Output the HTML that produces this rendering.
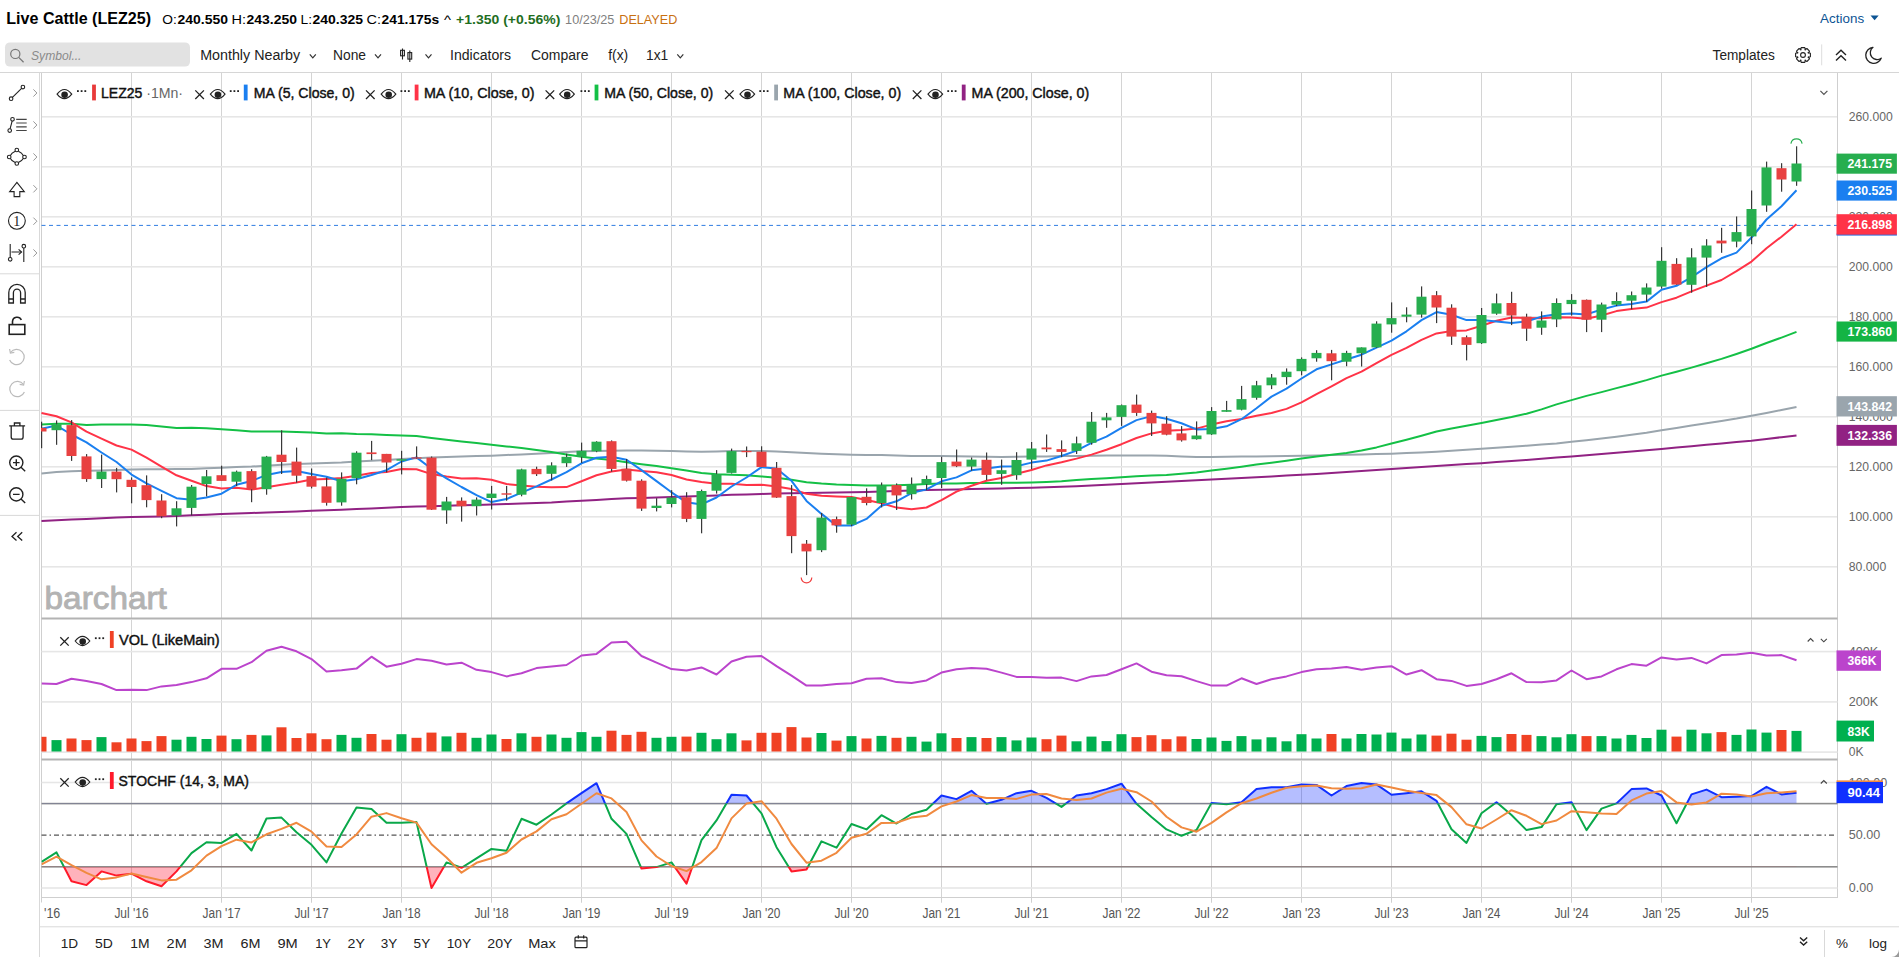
<!DOCTYPE html><html><head><meta charset="utf-8"><style>html,body{margin:0;padding:0;background:#fff;overflow:hidden;width:1899px;height:957px}svg{display:block;font-family:"Liberation Sans",sans-serif}</style></head><body><svg width="1899" height="957" viewBox="0 0 1899 957" font-family='"Liberation Sans", sans-serif'>
<defs><clipPath id="cMain"><rect x="41" y="73" width="1796.5" height="545"/></clipPath><clipPath id="cVol"><rect x="41.5" y="619.5" width="1796" height="140"/></clipPath><clipPath id="cSt"><rect x="41.5" y="761" width="1796" height="136.5"/></clipPath><clipPath id="cHi"><rect x="41.5" y="761" width="1796" height="42.6"/></clipPath><clipPath id="cMid"><rect x="41.5" y="803.6" width="1796" height="63.2"/></clipPath><clipPath id="cLo"><rect x="41.5" y="866.8" width="1796" height="31"/></clipPath></defs>
<rect width="1899" height="957" fill="#fff"/>
<text x="6.3" y="23.8" font-size="16.5" fill="#000" font-weight="bold" textLength="144.7" lengthAdjust="spacingAndGlyphs" >Live Cattle (LEZ25)</text>
<text x="162.3" y="23.6" font-size="13.5" fill="#000" textLength="14.5" lengthAdjust="spacingAndGlyphs" >O:</text>
<text x="177.5" y="23.6" font-size="13.5" fill="#000" font-weight="bold" textLength="50.5" lengthAdjust="spacingAndGlyphs" >240.550</text>
<text x="231.5" y="23.6" font-size="13.5" fill="#000" textLength="14.5" lengthAdjust="spacingAndGlyphs" >H:</text>
<text x="246.5" y="23.6" font-size="13.5" fill="#000" font-weight="bold" textLength="50.5" lengthAdjust="spacingAndGlyphs" >243.250</text>
<text x="300.5" y="23.6" font-size="13.5" fill="#000" textLength="11.5" lengthAdjust="spacingAndGlyphs" >L:</text>
<text x="312.5" y="23.6" font-size="13.5" fill="#000" font-weight="bold" textLength="50.5" lengthAdjust="spacingAndGlyphs" >240.325</text>
<text x="366.5" y="23.6" font-size="13.5" fill="#000" textLength="14.5" lengthAdjust="spacingAndGlyphs" >C:</text>
<text x="381.5" y="23.6" font-size="13.5" fill="#000" font-weight="bold" textLength="57.7" lengthAdjust="spacingAndGlyphs" >241.175s</text>
<text x="443.9" y="23.6" font-size="13.5" fill="#000" textLength="7" lengthAdjust="spacingAndGlyphs" >^</text>
<text x="456.1" y="23.6" font-size="13.5" fill="#1f6e1f" font-weight="bold" textLength="104.2" lengthAdjust="spacingAndGlyphs" >+1.350 (+0.56%)</text>
<text x="565.1" y="23.6" font-size="13.5" fill="#808080" textLength="49.3" lengthAdjust="spacingAndGlyphs" >10/23/25</text>
<text x="619.3" y="23.6" font-size="13.5" fill="#c8700f" textLength="58" lengthAdjust="spacingAndGlyphs" >DELAYED</text>
<text x="1820.1" y="23.3" font-size="13.5" fill="#0d5494" textLength="44" lengthAdjust="spacingAndGlyphs" >Actions</text>
<path d="M1870.5 15.6 L1878.7 15.6 L1874.6 20.2 Z" fill="#0d5494"/>
<rect x="5" y="42.4" width="185" height="24.2" rx="5" fill="#e2e2e2"/>
<circle cx="15.3" cy="53.9" r="4.6" fill="none" stroke="#777" stroke-width="1.2"/>
<path d="M18.7 57.4 L23.6 62.2" stroke="#777" stroke-width="1.3"/>
<text x="31" y="59.5" font-size="13.5" fill="#8a8a8a" font-style="italic" textLength="50.5" lengthAdjust="spacingAndGlyphs" >Symbol...</text>
<text x="200.2" y="60.2" font-size="14" fill="#222" textLength="100" lengthAdjust="spacingAndGlyphs" >Monthly Nearby</text>
<text x="333" y="60.2" font-size="14" fill="#222" textLength="33" lengthAdjust="spacingAndGlyphs" >None</text>
<text x="450" y="60.2" font-size="14" fill="#222" textLength="61" lengthAdjust="spacingAndGlyphs" >Indicators</text>
<text x="531" y="60.2" font-size="14" fill="#222" textLength="57.5" lengthAdjust="spacingAndGlyphs" >Compare</text>
<text x="608.2" y="60.2" font-size="14" fill="#222" textLength="20" lengthAdjust="spacingAndGlyphs" >f(x)</text>
<text x="646" y="60.2" font-size="14" fill="#222" textLength="22.2" lengthAdjust="spacingAndGlyphs" >1x1</text>
<text x="1712.6" y="60.2" font-size="14" fill="#222" textLength="62.2" lengthAdjust="spacingAndGlyphs" >Templates</text>
<path d="M309.8 54.3 L312.8 57.8 L315.8 54.3" fill="none" stroke="#333" stroke-width="1.2"/>
<path d="M375 54.3 L378 57.8 L381 54.3" fill="none" stroke="#333" stroke-width="1.2"/>
<path d="M425.5 54.3 L428.5 57.8 L431.5 54.3" fill="none" stroke="#333" stroke-width="1.2"/>
<path d="M677.3 54.3 L680.3 57.8 L683.3 54.3" fill="none" stroke="#333" stroke-width="1.2"/>
<g stroke="#222" stroke-width="1.1" fill="none"><path d="M402.5 48.5 V59.5 M409.8 50.5 V62"/><rect x="400.6" y="50.3" width="3.8" height="5.5"/><rect x="407.9" y="52.6" width="3.8" height="6.5"/></g>
<polygon points="1810.4,53.2 1810.4,56.8 1808.1,57.4 1808.3,56.9 1809.5,58.9 1806.9,61.5 1804.9,60.3 1805.4,60.1 1804.8,62.4 1801.2,62.4 1800.6,60.1 1801.1,60.3 1799.1,61.5 1796.5,58.9 1797.7,56.9 1797.9,57.4 1795.6,56.8 1795.6,53.2 1797.9,52.6 1797.7,53.1 1796.5,51.1 1799.1,48.5 1801.1,49.7 1800.6,49.9 1801.2,47.6 1804.8,47.6 1805.4,49.9 1804.9,49.7 1806.9,48.5 1809.5,51.1 1808.3,53.1 1808.1,52.6" fill="none" stroke="#222" stroke-width="1.1" stroke-linejoin="round"/>
<circle cx="1803" cy="55" r="2.4" fill="none" stroke="#222" stroke-width="1.1"/>
<line x1="1821.7" y1="44.4" x2="1821.7" y2="65.3" stroke="#ddd" stroke-width="1"/>
<path d="M1836 55 L1841 50.3 L1846 55 M1836 60.5 L1841 55.8 L1846 60.5" fill="none" stroke="#222" stroke-width="1.4"/>
<path d="M1873 47.3 A8 8 0 1 0 1881.2 58.2 A6.6 6.6 0 0 1 1873 47.3 Z" fill="none" stroke="#222" stroke-width="1.3" stroke-linejoin="round"/>
<rect x="0" y="72" width="1899" height="1" fill="#d6d6d6"/>
<rect x="39" y="73" width="1" height="884" fill="#d9d9d9"/>
<rect x="0" y="273.3" width="39" height="1" fill="#d9d9d9"/>
<rect x="0" y="409.9" width="39" height="1" fill="#d9d9d9"/>
<rect x="0" y="514.9" width="39" height="1" fill="#d9d9d9"/>
<g fill="none" stroke="#222" stroke-width="1.1"><circle cx="11.1" cy="98.7" r="1.8"/><circle cx="22.9" cy="87.1" r="1.8"/><path d="M12.4 97.4 L21.6 88.4"/></g>
<g fill="none" stroke="#222" stroke-width="1.1"><circle cx="12.5" cy="119.3" r="1.8"/><circle cx="9.7" cy="130.6" r="1.8"/><path d="M12.1 121.1 L10.1 128.8"/></g>
<g stroke="#444" stroke-width="1.2"><path d="M16.2 119.3 H26.7 M16.2 123 H26.7 M16.2 126.8 H26.7 M16.2 130.5 H26.7"/></g>
<g fill="none" stroke="#222" stroke-width="1.1"><circle cx="16.8" cy="150" r="1.8"/><circle cx="9.2" cy="157" r="1.8"/><circle cx="24.5" cy="157" r="1.8"/><circle cx="16.8" cy="163.5" r="1.8"/><path d="M15.3 151.3 Q11.5 153 10.4 155.4 M18.4 151.3 Q22 153 23.3 155.4 M10.4 158.6 Q11.5 161 15.2 162.5 M23.3 158.6 Q22 161 18.4 162.5"/></g>
<path d="M16.9 182.3 L24.3 191.6 L19.8 191.6 L19.8 196.6 L14.1 196.6 L14.1 191.6 L9.6 191.6 Z" fill="none" stroke="#222" stroke-width="1.1" stroke-linejoin="miter"/>
<circle cx="16.9" cy="220.8" r="8.4" fill="none" stroke="#222" stroke-width="1.1"/>
<text x="13.3" y="226" font-size="14" fill="#222" textLength="7" lengthAdjust="spacingAndGlyphs" font-family="Liberation Serif">1</text>
<g fill="none" stroke="#222" stroke-width="1.1"><path d="M10.2 244.1 V257.5 M23.8 248 V261.9 M11.5 252 H21.2"/><circle cx="10.2" cy="259.3" r="1.8"/><circle cx="23.8" cy="246.2" r="1.8"/></g>
<path d="M18.6 249.4 L21.6 252 L18.6 254.6" fill="none" stroke="#222" stroke-width="1.1"/>
<path d="M33.4 89.4 L36.9 93 L33.4 96.6" fill="none" stroke="#999" stroke-width="1"/>
<path d="M33.4 121.4 L36.9 125 L33.4 128.6" fill="none" stroke="#999" stroke-width="1"/>
<path d="M33.4 153.4 L36.9 157 L33.4 160.6" fill="none" stroke="#999" stroke-width="1"/>
<path d="M33.4 185.2 L36.9 188.8 L33.4 192.4" fill="none" stroke="#999" stroke-width="1"/>
<path d="M33.4 217.6 L36.9 221.2 L33.4 224.8" fill="none" stroke="#999" stroke-width="1"/>
<path d="M33.4 249.4 L36.9 253 L33.4 256.6" fill="none" stroke="#999" stroke-width="1"/>
<g fill="none" stroke="#222" stroke-width="1.3"><path d="M8.8 303 V292.5 A8.2 8.2 0 0 1 25.2 292.5 V303 H20.6 V292.7 A3.6 3.6 0 0 0 13.4 292.7 V303 Z"/><path d="M8.8 299 H13.4 M20.6 299 H25.2"/></g>
<g fill="none" stroke="#222" stroke-width="1.6"><rect x="9.2" y="324.6" width="15.6" height="9.7"/><path d="M12.5 324.6 V321.5 A4.6 4.6 0 0 1 21.3 320"/></g>
<g fill="none" stroke="#bbb" stroke-width="1.2"><path d="M10.5 352.5 A7.6 7.6 0 1 1 9.6 360"/><path d="M9.6 349 L10.4 353 L14.3 352.3"/><path d="M23.5 384.5 A7.6 7.6 0 1 0 24.4 392"/><path d="M24.4 381 L23.6 385 L19.7 384.3"/></g>
<g fill="none" stroke="#222" stroke-width="1.3"><path d="M9.2 425.9 H25.1 M14.4 425.9 V423 H19.9 V425.9 M11.2 425.9 V437 Q11.2 439.2 13.4 439.2 H20.9 Q23.1 439.2 23.1 437 V425.9"/></g>
<g fill="none" stroke="#222" stroke-width="1.4"><circle cx="16.3" cy="462.6" r="6.6"/><path d="M21 467.3 L25.2 471.3 M13 462.6 H19.6 M16.3 459.3 V465.9"/><circle cx="16.3" cy="494.4" r="6.6"/><path d="M21 499.1 L25.2 503.1 M13 494.4 H19.6"/></g>
<path d="M16.5 532.3 L12 536.4 L16.5 540.5 M22.2 532.3 L17.7 536.4 L22.2 540.5" fill="none" stroke="#222" stroke-width="1.3"/>
<rect x="131" y="73" width="1" height="545" fill="#d4d4d4"/>
<rect x="221" y="73" width="1" height="545" fill="#d4d4d4"/>
<rect x="311" y="73" width="1" height="545" fill="#d4d4d4"/>
<rect x="401" y="73" width="1" height="545" fill="#d4d4d4"/>
<rect x="491" y="73" width="1" height="545" fill="#d4d4d4"/>
<rect x="581" y="73" width="1" height="545" fill="#d4d4d4"/>
<rect x="671" y="73" width="1" height="545" fill="#d4d4d4"/>
<rect x="761" y="73" width="1" height="545" fill="#d4d4d4"/>
<rect x="851" y="73" width="1" height="545" fill="#d4d4d4"/>
<rect x="941" y="73" width="1" height="545" fill="#d4d4d4"/>
<rect x="1031" y="73" width="1" height="545" fill="#d4d4d4"/>
<rect x="1121" y="73" width="1" height="545" fill="#d4d4d4"/>
<rect x="1211" y="73" width="1" height="545" fill="#d4d4d4"/>
<rect x="1301" y="73" width="1" height="545" fill="#d4d4d4"/>
<rect x="1391" y="73" width="1" height="545" fill="#d4d4d4"/>
<rect x="1481" y="73" width="1" height="545" fill="#d4d4d4"/>
<rect x="1571" y="73" width="1" height="545" fill="#d4d4d4"/>
<rect x="1661" y="73" width="1" height="545" fill="#d4d4d4"/>
<rect x="1751" y="73" width="1" height="545" fill="#d4d4d4"/>
<rect x="41.5" y="566" width="1796" height="1.6" fill="#e6e6e6"/>
<rect x="41.5" y="516" width="1796" height="1.6" fill="#e6e6e6"/>
<rect x="41.5" y="466" width="1796" height="1.6" fill="#e6e6e6"/>
<rect x="41.5" y="416" width="1796" height="1.6" fill="#e6e6e6"/>
<rect x="41.5" y="366" width="1796" height="1.6" fill="#e6e6e6"/>
<rect x="41.5" y="316" width="1796" height="1.6" fill="#e6e6e6"/>
<rect x="41.5" y="266" width="1796" height="1.6" fill="#e6e6e6"/>
<rect x="41.5" y="216" width="1796" height="1.6" fill="#e6e6e6"/>
<rect x="41.5" y="166" width="1796" height="1.6" fill="#e6e6e6"/>
<rect x="41.5" y="116" width="1796" height="1.6" fill="#e6e6e6"/>
<rect x="41" y="73" width="1" height="825" fill="#cfcfcf"/>
<rect x="1837" y="73" width="1" height="825" fill="#cfcfcf"/>
<text x="44.6" y="609.2" font-size="31.5" fill="#b3b3b3" stroke="#b3b3b3" stroke-width="0.9" textLength="122.2" lengthAdjust="spacingAndGlyphs" >barchart</text>
<line x1="41.5" y1="225.4" x2="1837" y2="225.4" stroke="#2f7de1" stroke-width="1" stroke-dasharray="4,3.5"/>
<g clip-path="url(#cMain)">
<polyline points="41.5,520.9 56.5,520.2 71.5,519.5 86.5,518.9 101.5,518.2 116.5,517.5 131.5,517.1 146.5,516.8 161.5,516.4 176.5,516 191.5,515.3 206.5,514.7 221.5,514 236.5,513.5 251.5,513 266.5,512.5 281.5,511.9 296.5,511.4 311.5,510.8 326.5,510.2 341.5,509.7 356.5,509.1 371.5,508.4 386.5,507.8 401.5,507.1 416.5,506.6 431.5,506.2 446.5,505.8 461.5,505.3 476.5,504.9 491.5,504.6 506.5,504.1 521.5,503.5 536.5,502.9 551.5,502.4 566.5,501.5 581.5,500.7 596.5,499.9 611.5,499.1 626.5,498.3 641.5,497.9 656.5,497.4 671.5,496.9 686.5,496.5 701.5,495.9 716.5,495.4 731.5,494.8 746.5,494.4 761.5,493.9 776.5,493.5 791.5,493.2 806.5,493 821.5,492.8 836.5,492.5 851.5,492.2 866.5,492 881.5,491.5 896.5,491 911.5,490.5 926.5,490 941.5,489.7 956.5,489.4 971.5,489.1 986.5,488.8 1001.5,488.5 1016.5,488.1 1031.5,487.8 1046.5,487.3 1061.5,486.7 1076.5,486.2 1091.5,485.5 1106.5,484.8 1121.5,484 1136.5,483.3 1151.5,482.6 1166.5,481.8 1181.5,481.1 1196.5,480.3 1211.5,479.6 1226.5,478.8 1241.5,478 1256.5,477.2 1271.5,476.4 1286.5,475.6 1301.5,474.8 1316.5,473.9 1331.5,472.9 1346.5,472 1361.5,471 1376.5,470.1 1391.5,469.1 1406.5,468.1 1421.5,467 1436.5,466 1451.5,465.1 1466.5,464.1 1481.5,463.2 1496.5,462.1 1511.5,461 1526.5,459.9 1541.5,458.7 1556.5,457.6 1571.5,456.5 1586.5,455.2 1601.5,454 1616.5,452.7 1631.5,451.4 1646.5,450.2 1661.5,448.9 1676.5,447.5 1691.5,446.2 1706.5,444.8 1721.5,443.4 1736.5,442.1 1751.5,440.7 1766.5,438.9 1781.5,437.2 1796.5,435.4" fill="none" stroke="#912283" stroke-width="2" stroke-linejoin="round" />
<polyline points="41.5,473.4 56.5,472 71.5,471.3 86.5,470.7 101.5,470.4 116.5,470 131.5,469.6 146.5,469.3 161.5,469.2 176.5,469 191.5,468.9 206.5,468.3 221.5,467.7 236.5,467.1 251.5,466.6 266.5,465.7 281.5,464.8 296.5,464.1 311.5,463.4 326.5,463 341.5,462.6 356.5,461.6 371.5,460.7 386.5,459.9 401.5,459 416.5,458.2 431.5,457.4 446.5,456.9 461.5,456.5 476.5,456.1 491.5,455.7 506.5,455 521.5,454.4 536.5,453.7 551.5,453 566.5,452.1 581.5,451.3 596.5,451.1 611.5,450.8 626.5,450.6 641.5,450.5 656.5,450.8 671.5,451.1 686.5,451.4 701.5,451.7 716.5,451.4 731.5,451.1 746.5,451.1 761.5,451.1 776.5,451.6 791.5,452.2 806.5,452.9 821.5,453.7 836.5,454.2 851.5,454.7 866.5,454.9 881.5,455.1 896.5,455.5 911.5,455.9 926.5,455.9 941.5,455.9 956.5,456.2 971.5,456.6 986.5,456.8 1001.5,456.9 1016.5,456.8 1031.5,456.6 1046.5,456.4 1061.5,456.1 1076.5,456 1091.5,455.8 1106.5,455.6 1121.5,455.5 1136.5,455.5 1151.5,455.5 1166.5,455.8 1181.5,456.4 1196.5,456.9 1211.5,456.9 1226.5,456.7 1241.5,456.5 1256.5,456.4 1271.5,456.2 1286.5,456 1301.5,455.8 1316.5,455.4 1331.5,455.1 1346.5,454.8 1361.5,454.4 1376.5,454.1 1391.5,453.7 1406.5,453 1421.5,452.4 1436.5,451.7 1451.5,450.8 1466.5,449.7 1481.5,448.7 1496.5,447.7 1511.5,446.7 1526.5,445.7 1541.5,444.6 1556.5,443.4 1571.5,441.8 1586.5,440.2 1601.5,438.5 1616.5,436.8 1631.5,434.8 1646.5,432.7 1661.5,430.2 1676.5,427.9 1691.5,425.6 1706.5,423.3 1721.5,421 1736.5,418.6 1751.5,415.8 1766.5,412.9 1781.5,410 1796.5,406.9" fill="none" stroke="#9aa5ad" stroke-width="2" stroke-linejoin="round" />
<polyline points="41.5,424.5 56.5,423.8 71.5,423.8 86.5,424.9 101.5,424.5 116.5,424.5 131.5,424.5 146.5,425.1 161.5,426.5 176.5,427.9 191.5,427.8 206.5,428.3 221.5,429.2 236.5,430.3 251.5,431.5 266.5,431.5 281.5,431.5 296.5,432.1 311.5,432.6 326.5,433.6 341.5,433.2 356.5,434 371.5,434.3 386.5,434.9 401.5,435.4 416.5,436 431.5,437.9 446.5,439.8 461.5,441.5 476.5,443.1 491.5,444.8 506.5,446.4 521.5,448 536.5,450 551.5,451.9 566.5,454.4 581.5,456.8 596.5,458.5 611.5,460.1 626.5,462.3 641.5,464.3 656.5,466 671.5,468.3 686.5,470.6 701.5,472.9 716.5,474.3 731.5,474.7 746.5,475.2 761.5,476.4 776.5,477.7 791.5,479.8 806.5,482.3 821.5,483.6 836.5,484.5 851.5,485 866.5,485.5 881.5,485.4 896.5,485.3 911.5,484.7 926.5,484.1 941.5,483.6 956.5,483.4 971.5,483 986.5,483.1 1001.5,482.7 1016.5,482.8 1031.5,482.5 1046.5,482 1061.5,481.3 1076.5,480.1 1091.5,478.9 1106.5,478.2 1121.5,477.2 1136.5,476.3 1151.5,475.5 1166.5,475.1 1181.5,473.7 1196.5,472.4 1211.5,470.5 1226.5,468.7 1241.5,466.8 1256.5,464.6 1271.5,462.7 1286.5,460.7 1301.5,458.6 1316.5,456.5 1331.5,454.7 1346.5,452.9 1361.5,450.5 1376.5,447.4 1391.5,443.5 1406.5,439.7 1421.5,435.7 1436.5,431.5 1451.5,428.4 1466.5,425.8 1481.5,423.1 1496.5,420.1 1511.5,417.1 1526.5,413.7 1541.5,409.4 1556.5,404.4 1571.5,400.1 1586.5,395.9 1601.5,392.1 1616.5,388.1 1631.5,384.2 1646.5,380.1 1661.5,375.6 1676.5,371.7 1691.5,367.6 1706.5,363.2 1721.5,358.9 1736.5,354 1751.5,348.8 1766.5,343 1781.5,337.6 1796.5,331.9" fill="none" stroke="#14c046" stroke-width="2" stroke-linejoin="round" />
<polyline points="41.5,412.9 56.5,416.3 71.5,422.4 86.5,431.6 101.5,438.7 116.5,445.5 131.5,449.6 146.5,457.7 161.5,466.6 176.5,475.3 191.5,480.8 206.5,486.1 221.5,488.5 236.5,487.8 251.5,489.6 266.5,487.3 281.5,484.8 296.5,482.4 311.5,479.4 326.5,478.9 341.5,478.1 356.5,475.7 371.5,473 386.5,472.1 401.5,469.1 416.5,469.3 431.5,474.1 446.5,476.6 461.5,478.6 476.5,478.3 491.5,479.8 506.5,484 521.5,485.5 536.5,486.7 551.5,487.3 566.5,487.1 581.5,481.2 596.5,475.2 611.5,471.5 626.5,469.6 641.5,471.1 656.5,472.2 671.5,475 686.5,479.5 701.5,482.1 716.5,483.8 731.5,483.8 746.5,484.9 761.5,484.7 776.5,486.4 791.5,489.1 806.5,493.7 821.5,495.7 836.5,496.4 851.5,497 866.5,499.9 881.5,503.3 896.5,507.6 911.5,509.3 926.5,507.5 941.5,500.1 956.5,491.6 971.5,485.8 986.5,480.7 1001.5,478 1016.5,473.7 1031.5,470 1046.5,465.4 1061.5,462.2 1076.5,458.6 1091.5,454.6 1106.5,449.7 1121.5,444.2 1136.5,438 1151.5,433.4 1166.5,430.8 1181.5,430 1196.5,428.6 1211.5,424.6 1226.5,421.2 1241.5,419 1256.5,415.8 1271.5,413 1286.5,408.9 1301.5,402.4 1316.5,394.2 1331.5,386.3 1346.5,378.1 1361.5,371.7 1376.5,363.1 1391.5,354.9 1406.5,347.9 1421.5,339.8 1436.5,333.4 1451.5,331.1 1466.5,330.4 1481.5,325.7 1496.5,320.8 1511.5,317.6 1526.5,318.1 1541.5,318.3 1556.5,317.2 1571.5,317.5 1586.5,318.7 1601.5,315.5 1616.5,311.1 1631.5,309.1 1646.5,307.6 1661.5,302.1 1676.5,297.7 1691.5,291.4 1706.5,285.6 1721.5,280 1736.5,271.2 1751.5,261.6 1766.5,248.3 1781.5,236.7 1796.5,224.3" fill="none" stroke="#ff3347" stroke-width="2" stroke-linejoin="round" />
<polyline points="41.5,428.8 56.5,425.6 71.5,434.5 86.5,442.3 101.5,452.5 116.5,462 131.5,474.6 146.5,483.4 161.5,490.8 176.5,498.2 191.5,499.7 206.5,497.5 221.5,493.7 236.5,484.8 251.5,481 266.5,474.9 281.5,472.1 296.5,471 311.5,474 326.5,476.8 341.5,481.2 356.5,479.3 371.5,475 386.5,470.2 401.5,461.5 416.5,457.4 431.5,468.8 446.5,478.3 461.5,487 476.5,495.1 491.5,502.1 506.5,499.1 521.5,492.7 536.5,486.3 551.5,479.5 566.5,472.1 581.5,463.3 596.5,457.8 611.5,456.7 626.5,459.8 641.5,470.1 656.5,481.1 671.5,492.3 686.5,502.3 701.5,504.4 716.5,497.5 731.5,486.5 746.5,477.5 761.5,467.1 776.5,468.4 791.5,480.8 806.5,500.9 821.5,513.9 836.5,525.6 851.5,525.5 866.5,518.9 881.5,505.7 896.5,501.3 911.5,493.1 926.5,489.4 941.5,481.3 956.5,477.4 971.5,470.3 986.5,468.4 1001.5,466.6 1016.5,466.2 1031.5,462.6 1046.5,460.6 1061.5,456 1076.5,450.6 1091.5,442.9 1106.5,436.7 1121.5,427.9 1136.5,420.1 1151.5,416.1 1166.5,418.7 1181.5,423.3 1196.5,429.4 1211.5,429 1226.5,426.3 1241.5,419.2 1256.5,408.2 1271.5,396.6 1286.5,388.7 1301.5,378.5 1316.5,369.3 1331.5,364.4 1346.5,359.5 1361.5,354.7 1376.5,347.6 1391.5,340.6 1406.5,331.3 1421.5,320.1 1436.5,312.1 1451.5,314.7 1466.5,320.1 1481.5,320.1 1496.5,321.5 1511.5,323.1 1526.5,321.5 1541.5,316.6 1556.5,314.2 1571.5,313.5 1586.5,314.4 1601.5,309.5 1616.5,305.6 1631.5,304.1 1646.5,301.6 1661.5,289.8 1676.5,285.8 1691.5,277.1 1706.5,267.2 1721.5,258.3 1736.5,252.6 1751.5,237.5 1766.5,219.5 1781.5,206.3 1796.5,190.3" fill="none" stroke="#1a7ff0" stroke-width="2" stroke-linejoin="round" />
<rect x="41" y="421.7" width="1.2" height="26.5" fill="#383838"/>
<rect x="56" y="420.4" width="1.2" height="24.4" fill="#383838"/>
<rect x="71" y="420.1" width="1.2" height="40.8" fill="#383838"/>
<rect x="86" y="454.1" width="1.2" height="27.8" fill="#383838"/>
<rect x="101" y="454.6" width="1.2" height="33.4" fill="#383838"/>
<rect x="116" y="467.9" width="1.2" height="24.5" fill="#383838"/>
<rect x="131" y="477.4" width="1.2" height="25.9" fill="#383838"/>
<rect x="146" y="475.4" width="1.2" height="31.9" fill="#383838"/>
<rect x="161" y="494.2" width="1.2" height="24" fill="#383838"/>
<rect x="176" y="501.2" width="1.2" height="25.2" fill="#383838"/>
<rect x="191" y="485" width="1.2" height="30.4" fill="#383838"/>
<rect x="206" y="470" width="1.2" height="26.4" fill="#383838"/>
<rect x="221" y="465.7" width="1.2" height="15.2" fill="#383838"/>
<rect x="236" y="470.6" width="1.2" height="15.5" fill="#383838"/>
<rect x="251" y="469.2" width="1.2" height="33" fill="#383838"/>
<rect x="266" y="455.9" width="1.2" height="38.8" fill="#383838"/>
<rect x="281" y="430.3" width="1.2" height="43.7" fill="#383838"/>
<rect x="296" y="447.6" width="1.2" height="35" fill="#383838"/>
<rect x="311" y="468.5" width="1.2" height="19.9" fill="#383838"/>
<rect x="326" y="477.5" width="1.2" height="28.1" fill="#383838"/>
<rect x="341" y="472.4" width="1.2" height="33.3" fill="#383838"/>
<rect x="356" y="451.3" width="1.2" height="33" fill="#383838"/>
<rect x="371" y="440.9" width="1.2" height="19.2" fill="#383838"/>
<rect x="386" y="453.9" width="1.2" height="18.5" fill="#383838"/>
<rect x="401" y="450.8" width="1.2" height="23.6" fill="#383838"/>
<rect x="416" y="446.4" width="1.2" height="12.6" fill="#383838"/>
<rect x="431" y="456.5" width="1.2" height="53.5" fill="#383838"/>
<rect x="446" y="496.9" width="1.2" height="26.9" fill="#383838"/>
<rect x="461" y="497.4" width="1.2" height="24.2" fill="#383838"/>
<rect x="476" y="497.4" width="1.2" height="18.1" fill="#383838"/>
<rect x="491" y="485.9" width="1.2" height="23.6" fill="#383838"/>
<rect x="506" y="485.9" width="1.2" height="14.8" fill="#383838"/>
<rect x="521" y="468.7" width="1.2" height="27.6" fill="#383838"/>
<rect x="536" y="466.7" width="1.2" height="9.3" fill="#383838"/>
<rect x="551" y="462.3" width="1.2" height="18.1" fill="#383838"/>
<rect x="566" y="453.7" width="1.2" height="13.2" fill="#383838"/>
<rect x="581" y="442.6" width="1.2" height="20.3" fill="#383838"/>
<rect x="596" y="441.2" width="1.2" height="11" fill="#383838"/>
<rect x="611" y="440.4" width="1.2" height="31.2" fill="#383838"/>
<rect x="626" y="459" width="1.2" height="22.5" fill="#383838"/>
<rect x="641" y="479.3" width="1.2" height="31.6" fill="#383838"/>
<rect x="656" y="498.2" width="1.2" height="13.2" fill="#383838"/>
<rect x="671" y="490.2" width="1.2" height="17.2" fill="#383838"/>
<rect x="686" y="492.2" width="1.2" height="29.9" fill="#383838"/>
<rect x="701" y="489.6" width="1.2" height="43.7" fill="#383838"/>
<rect x="716" y="470.1" width="1.2" height="23.5" fill="#383838"/>
<rect x="731" y="448.6" width="1.2" height="24.9" fill="#383838"/>
<rect x="746" y="446.5" width="1.2" height="10.6" fill="#383838"/>
<rect x="761" y="446.3" width="1.2" height="20.9" fill="#383838"/>
<rect x="776" y="462" width="1.2" height="36" fill="#383838"/>
<rect x="791" y="485.1" width="1.2" height="68.1" fill="#383838"/>
<rect x="806" y="540" width="1.2" height="35.1" fill="#383838"/>
<rect x="821" y="512.9" width="1.2" height="39.2" fill="#383838"/>
<rect x="836" y="516.6" width="1.2" height="16.1" fill="#383838"/>
<rect x="851" y="496.8" width="1.2" height="29.3" fill="#383838"/>
<rect x="866" y="488.3" width="1.2" height="17" fill="#383838"/>
<rect x="881" y="482.5" width="1.2" height="24.9" fill="#383838"/>
<rect x="896" y="483.4" width="1.2" height="26.6" fill="#383838"/>
<rect x="911" y="477.5" width="1.2" height="22" fill="#383838"/>
<rect x="926" y="475.6" width="1.2" height="14.6" fill="#383838"/>
<rect x="941" y="456.8" width="1.2" height="31.2" fill="#383838"/>
<rect x="956" y="449.5" width="1.2" height="17.6" fill="#383838"/>
<rect x="971" y="457.5" width="1.2" height="13.2" fill="#383838"/>
<rect x="986" y="452.5" width="1.2" height="27.6" fill="#383838"/>
<rect x="1001" y="459.6" width="1.2" height="25.2" fill="#383838"/>
<rect x="1016" y="452.2" width="1.2" height="27.6" fill="#383838"/>
<rect x="1031" y="442" width="1.2" height="27.2" fill="#383838"/>
<rect x="1046" y="434.5" width="1.2" height="17.4" fill="#383838"/>
<rect x="1061" y="440.4" width="1.2" height="16.8" fill="#383838"/>
<rect x="1076" y="436.6" width="1.2" height="17.4" fill="#383838"/>
<rect x="1091" y="412" width="1.2" height="32.7" fill="#383838"/>
<rect x="1106" y="412.9" width="1.2" height="14.9" fill="#383838"/>
<rect x="1121" y="404.5" width="1.2" height="21.4" fill="#383838"/>
<rect x="1136" y="394.6" width="1.2" height="21.3" fill="#383838"/>
<rect x="1151" y="410.6" width="1.2" height="25.4" fill="#383838"/>
<rect x="1166" y="416.2" width="1.2" height="19.1" fill="#383838"/>
<rect x="1181" y="426.1" width="1.2" height="15.5" fill="#383838"/>
<rect x="1196" y="421.4" width="1.2" height="18.3" fill="#383838"/>
<rect x="1211" y="407.1" width="1.2" height="27.9" fill="#383838"/>
<rect x="1226" y="400.9" width="1.2" height="10.9" fill="#383838"/>
<rect x="1241" y="385.9" width="1.2" height="24.5" fill="#383838"/>
<rect x="1256" y="380.9" width="1.2" height="18.8" fill="#383838"/>
<rect x="1271" y="374" width="1.2" height="15.1" fill="#383838"/>
<rect x="1286" y="368.4" width="1.2" height="16.3" fill="#383838"/>
<rect x="1301" y="357.4" width="1.2" height="17.9" fill="#383838"/>
<rect x="1316" y="350.2" width="1.2" height="11.5" fill="#383838"/>
<rect x="1331" y="349.9" width="1.2" height="30.4" fill="#383838"/>
<rect x="1346" y="350.8" width="1.2" height="15.4" fill="#383838"/>
<rect x="1361" y="347.4" width="1.2" height="19.1" fill="#383838"/>
<rect x="1376" y="321.3" width="1.2" height="26.6" fill="#383838"/>
<rect x="1391" y="302.4" width="1.2" height="30.3" fill="#383838"/>
<rect x="1406" y="307.3" width="1.2" height="15" fill="#383838"/>
<rect x="1421" y="286.4" width="1.2" height="31.2" fill="#383838"/>
<rect x="1436" y="291.1" width="1.2" height="32" fill="#383838"/>
<rect x="1451" y="304.3" width="1.2" height="40.6" fill="#383838"/>
<rect x="1466" y="335.5" width="1.2" height="24.9" fill="#383838"/>
<rect x="1481" y="308" width="1.2" height="36" fill="#383838"/>
<rect x="1496" y="293.6" width="1.2" height="21.2" fill="#383838"/>
<rect x="1511" y="291.8" width="1.2" height="33.3" fill="#383838"/>
<rect x="1526" y="313.7" width="1.2" height="27.2" fill="#383838"/>
<rect x="1541" y="311.4" width="1.2" height="23.4" fill="#383838"/>
<rect x="1556" y="298.4" width="1.2" height="28.7" fill="#383838"/>
<rect x="1571" y="294.1" width="1.2" height="21.5" fill="#383838"/>
<rect x="1586" y="299.5" width="1.2" height="32.6" fill="#383838"/>
<rect x="1601" y="302.6" width="1.2" height="29.5" fill="#383838"/>
<rect x="1616" y="292.3" width="1.2" height="13.8" fill="#383838"/>
<rect x="1631" y="291.5" width="1.2" height="17.8" fill="#383838"/>
<rect x="1646" y="283.4" width="1.2" height="18.4" fill="#383838"/>
<rect x="1661" y="247.2" width="1.2" height="41.4" fill="#383838"/>
<rect x="1676" y="258.2" width="1.2" height="26.7" fill="#383838"/>
<rect x="1691" y="248.2" width="1.2" height="44.5" fill="#383838"/>
<rect x="1706" y="239.2" width="1.2" height="47.7" fill="#383838"/>
<rect x="1721" y="227.8" width="1.2" height="25" fill="#383838"/>
<rect x="1736" y="216.5" width="1.2" height="30.8" fill="#383838"/>
<rect x="1751" y="190.5" width="1.2" height="53.7" fill="#383838"/>
<rect x="1766" y="161.6" width="1.2" height="50.2" fill="#383838"/>
<rect x="1781" y="163.2" width="1.2" height="28.5" fill="#383838"/>
<rect x="1796" y="146.3" width="1.2" height="39.5" fill="#383838"/>
<rect x="36.5" y="427.9" width="10" height="3.6" fill="#e84141"/>
<rect x="51.5" y="424.2" width="10" height="6" fill="#27ae4f"/>
<rect x="66.5" y="425.1" width="10" height="30.9" fill="#e84141"/>
<rect x="81.5" y="456.4" width="10" height="22.7" fill="#e84141"/>
<rect x="96.5" y="471.6" width="10" height="7.5" fill="#27ae4f"/>
<rect x="111.5" y="471.6" width="10" height="7.6" fill="#e84141"/>
<rect x="126.5" y="479.8" width="10" height="7.2" fill="#e84141"/>
<rect x="141.5" y="485.2" width="10" height="14.9" fill="#e84141"/>
<rect x="156.5" y="500.5" width="10" height="15.7" fill="#e84141"/>
<rect x="171.5" y="508.3" width="10" height="7.2" fill="#27ae4f"/>
<rect x="186.5" y="486.7" width="10" height="21.2" fill="#27ae4f"/>
<rect x="201.5" y="476.3" width="10" height="7.8" fill="#27ae4f"/>
<rect x="216.5" y="475.2" width="10" height="5.7" fill="#e84141"/>
<rect x="231.5" y="471.7" width="10" height="10" fill="#27ae4f"/>
<rect x="246.5" y="471.1" width="10" height="18.1" fill="#e84141"/>
<rect x="261.5" y="456.6" width="10" height="32.6" fill="#27ae4f"/>
<rect x="276.5" y="454.7" width="10" height="7.3" fill="#e84141"/>
<rect x="291.5" y="461.6" width="10" height="14.1" fill="#e84141"/>
<rect x="306.5" y="476.1" width="10" height="10.6" fill="#e84141"/>
<rect x="321.5" y="486.4" width="10" height="16.4" fill="#e84141"/>
<rect x="336.5" y="478.8" width="10" height="23.6" fill="#27ae4f"/>
<rect x="351.5" y="452.7" width="10" height="25.5" fill="#27ae4f"/>
<rect x="366.5" y="452.4" width="10" height="1.7" fill="#e84141"/>
<rect x="381.5" y="453.9" width="10" height="8.6" fill="#e84141"/>
<rect x="396.5" y="459.2" width="10" height="1.5" fill="#27ae4f"/>
<rect x="411.5" y="457.4" width="10" height="1.2" fill="#e84141"/>
<rect x="426.5" y="457.6" width="10" height="52.1" fill="#e84141"/>
<rect x="441.5" y="501.5" width="10" height="8.9" fill="#27ae4f"/>
<rect x="456.5" y="500.7" width="10" height="5.5" fill="#e84141"/>
<rect x="471.5" y="499.6" width="10" height="6.6" fill="#27ae4f"/>
<rect x="486.5" y="493.6" width="10" height="4.4" fill="#27ae4f"/>
<rect x="501.5" y="493.3" width="10" height="1.4" fill="#e84141"/>
<rect x="516.5" y="469.4" width="10" height="25.3" fill="#27ae4f"/>
<rect x="531.5" y="468.9" width="10" height="5.3" fill="#e84141"/>
<rect x="546.5" y="465.4" width="10" height="8.4" fill="#27ae4f"/>
<rect x="561.5" y="456.8" width="10" height="6.4" fill="#27ae4f"/>
<rect x="576.5" y="450.8" width="10" height="6" fill="#27ae4f"/>
<rect x="591.5" y="441.7" width="10" height="9.6" fill="#27ae4f"/>
<rect x="606.5" y="441.2" width="10" height="27.7" fill="#e84141"/>
<rect x="621.5" y="468.7" width="10" height="12" fill="#e84141"/>
<rect x="636.5" y="480.7" width="10" height="27.9" fill="#e84141"/>
<rect x="651.5" y="505.7" width="10" height="2.3" fill="#27ae4f"/>
<rect x="666.5" y="497.6" width="10" height="6.4" fill="#27ae4f"/>
<rect x="681.5" y="497.3" width="10" height="21.6" fill="#e84141"/>
<rect x="696.5" y="491" width="10" height="27.9" fill="#27ae4f"/>
<rect x="711.5" y="474.1" width="10" height="16.6" fill="#27ae4f"/>
<rect x="726.5" y="451.1" width="10" height="21.8" fill="#27ae4f"/>
<rect x="741.5" y="450.9" width="10" height="1.3" fill="#e84141"/>
<rect x="756.5" y="451.7" width="10" height="15.3" fill="#e84141"/>
<rect x="771.5" y="467.8" width="10" height="29.8" fill="#e84141"/>
<rect x="786.5" y="496.1" width="10" height="40" fill="#e84141"/>
<rect x="801.5" y="543.7" width="10" height="7.7" fill="#e84141"/>
<rect x="816.5" y="517.6" width="10" height="32.6" fill="#27ae4f"/>
<rect x="831.5" y="519.1" width="10" height="6.3" fill="#e84141"/>
<rect x="846.5" y="497.1" width="10" height="27.5" fill="#27ae4f"/>
<rect x="861.5" y="496.8" width="10" height="6.2" fill="#e84141"/>
<rect x="876.5" y="485.4" width="10" height="17.6" fill="#27ae4f"/>
<rect x="891.5" y="485.1" width="10" height="10.3" fill="#e84141"/>
<rect x="906.5" y="484.4" width="10" height="9.8" fill="#27ae4f"/>
<rect x="921.5" y="479" width="10" height="5" fill="#27ae4f"/>
<rect x="936.5" y="462.1" width="10" height="15.9" fill="#27ae4f"/>
<rect x="951.5" y="461.6" width="10" height="4.7" fill="#e84141"/>
<rect x="966.5" y="459.6" width="10" height="7" fill="#27ae4f"/>
<rect x="981.5" y="459.8" width="10" height="15.1" fill="#e84141"/>
<rect x="996.5" y="470.2" width="10" height="3.7" fill="#27ae4f"/>
<rect x="1011.5" y="460" width="10" height="15.2" fill="#27ae4f"/>
<rect x="1026.5" y="448.5" width="10" height="11.1" fill="#27ae4f"/>
<rect x="1041.5" y="447.5" width="10" height="1.8" fill="#e84141"/>
<rect x="1056.5" y="449.1" width="10" height="2.8" fill="#e84141"/>
<rect x="1071.5" y="443.3" width="10" height="7.6" fill="#27ae4f"/>
<rect x="1086.5" y="421.7" width="10" height="21.1" fill="#27ae4f"/>
<rect x="1101.5" y="417.4" width="10" height="2.9" fill="#27ae4f"/>
<rect x="1116.5" y="405.2" width="10" height="11.7" fill="#27ae4f"/>
<rect x="1131.5" y="404.6" width="10" height="8.3" fill="#e84141"/>
<rect x="1146.5" y="412.9" width="10" height="10.5" fill="#e84141"/>
<rect x="1161.5" y="423.7" width="10" height="11" fill="#e84141"/>
<rect x="1176.5" y="433.4" width="10" height="7" fill="#e84141"/>
<rect x="1191.5" y="435.5" width="10" height="3.7" fill="#27ae4f"/>
<rect x="1206.5" y="411" width="10" height="23.4" fill="#27ae4f"/>
<rect x="1221.5" y="410.1" width="10" height="1.7" fill="#27ae4f"/>
<rect x="1236.5" y="399.1" width="10" height="10.6" fill="#27ae4f"/>
<rect x="1251.5" y="385.3" width="10" height="12.5" fill="#27ae4f"/>
<rect x="1266.5" y="377.5" width="10" height="7.8" fill="#27ae4f"/>
<rect x="1281.5" y="371.7" width="10" height="5.4" fill="#27ae4f"/>
<rect x="1296.5" y="358.9" width="10" height="12.3" fill="#27ae4f"/>
<rect x="1311.5" y="352.9" width="10" height="5.4" fill="#27ae4f"/>
<rect x="1326.5" y="353.3" width="10" height="7.9" fill="#e84141"/>
<rect x="1341.5" y="352.9" width="10" height="8.8" fill="#27ae4f"/>
<rect x="1356.5" y="347.4" width="10" height="5.9" fill="#27ae4f"/>
<rect x="1371.5" y="323.6" width="10" height="23.8" fill="#27ae4f"/>
<rect x="1386.5" y="318.1" width="10" height="6.3" fill="#27ae4f"/>
<rect x="1401.5" y="314.6" width="10" height="2.1" fill="#27ae4f"/>
<rect x="1416.5" y="296.7" width="10" height="17.9" fill="#27ae4f"/>
<rect x="1431.5" y="295.2" width="10" height="12.3" fill="#e84141"/>
<rect x="1446.5" y="307.7" width="10" height="28.9" fill="#e84141"/>
<rect x="1461.5" y="337.2" width="10" height="7.7" fill="#e84141"/>
<rect x="1476.5" y="315" width="10" height="28.2" fill="#27ae4f"/>
<rect x="1491.5" y="303.3" width="10" height="10.4" fill="#27ae4f"/>
<rect x="1506.5" y="303" width="10" height="12.5" fill="#e84141"/>
<rect x="1521.5" y="316.7" width="10" height="12" fill="#e84141"/>
<rect x="1536.5" y="320.5" width="10" height="7.2" fill="#27ae4f"/>
<rect x="1551.5" y="303" width="10" height="16.4" fill="#27ae4f"/>
<rect x="1566.5" y="299.9" width="10" height="4.2" fill="#27ae4f"/>
<rect x="1581.5" y="299.8" width="10" height="19.9" fill="#e84141"/>
<rect x="1596.5" y="304.5" width="10" height="15.2" fill="#27ae4f"/>
<rect x="1611.5" y="301" width="10" height="3.7" fill="#27ae4f"/>
<rect x="1626.5" y="295.2" width="10" height="5.5" fill="#27ae4f"/>
<rect x="1641.5" y="287.5" width="10" height="7.1" fill="#27ae4f"/>
<rect x="1656.5" y="260.8" width="10" height="25.8" fill="#27ae4f"/>
<rect x="1671.5" y="263.9" width="10" height="20.7" fill="#e84141"/>
<rect x="1686.5" y="257.4" width="10" height="27.4" fill="#27ae4f"/>
<rect x="1701.5" y="245.5" width="10" height="12.1" fill="#27ae4f"/>
<rect x="1716.5" y="240.6" width="10" height="2.8" fill="#e84141"/>
<rect x="1731.5" y="232.1" width="10" height="9.5" fill="#27ae4f"/>
<rect x="1746.5" y="209" width="10" height="27.4" fill="#27ae4f"/>
<rect x="1761.5" y="167.4" width="10" height="38.1" fill="#27ae4f"/>
<rect x="1776.5" y="168.2" width="10" height="11.3" fill="#e84141"/>
<rect x="1791.5" y="163.5" width="10" height="18" fill="#27ae4f"/>
</g>
<path d="M1790.9 143.6 A5.7 5.7 0 0 1 1802.1 143.6" fill="none" stroke="#27ae4f" stroke-width="1.2"/>
<path d="M801.2 577.6 A5.3 5.3 0 0 0 811.8 577.6" fill="none" stroke="#f04040" stroke-width="1.2"/>
<path d="M57.1 94.1 Q64.4 84.9 71.7 94.1 Q64.4 103.3 57.1 94.1 Z" fill="none" stroke="#222" stroke-width="1.2"/>
<circle cx="64.6" cy="94.7" r="3.3" fill="#222"/>
<rect x="77" y="90.2" width="1.8" height="1.8" fill="#222"/>
<rect x="80.7" y="90.2" width="1.8" height="1.8" fill="#222"/>
<rect x="84.4" y="90.2" width="1.8" height="1.8" fill="#222"/>
<rect x="92.1" y="84.6" width="3.8" height="15.8" fill="#e83a3a"/>
<text x="101" y="97.9" font-size="15.3" fill="#111" stroke="#111" stroke-width="0.45" textLength="41.4" lengthAdjust="spacingAndGlyphs" >LEZ25</text>
<text x="146.2" y="97.9" font-size="14.5" fill="#666" textLength="36.9" lengthAdjust="spacingAndGlyphs" >·1Mn·</text>
<path d="M195.3 90.4 L203.9 99 M203.9 90.4 L195.3 99" stroke="#222" stroke-width="1.3"/>
<path d="M210.4 94.1 Q217.7 84.9 225 94.1 Q217.7 103.3 210.4 94.1 Z" fill="none" stroke="#222" stroke-width="1.2"/>
<circle cx="217.9" cy="94.7" r="3.3" fill="#222"/>
<rect x="229.8" y="90.2" width="1.8" height="1.8" fill="#222"/>
<rect x="233.5" y="90.2" width="1.8" height="1.8" fill="#222"/>
<rect x="237.2" y="90.2" width="1.8" height="1.8" fill="#222"/>
<rect x="243.8" y="84.6" width="3.8" height="15.8" fill="#1a7ff0"/>
<text x="253.8" y="97.9" font-size="15.3" fill="#111" stroke="#111" stroke-width="0.45" textLength="100.9" lengthAdjust="spacingAndGlyphs" >MA (5, Close, 0)</text>
<path d="M366 90.4 L374.6 99 M374.6 90.4 L366 99" stroke="#222" stroke-width="1.3"/>
<path d="M381.2 94.1 Q388.5 84.9 395.8 94.1 Q388.5 103.3 381.2 94.1 Z" fill="none" stroke="#222" stroke-width="1.2"/>
<circle cx="388.7" cy="94.7" r="3.3" fill="#222"/>
<rect x="400.5" y="90.2" width="1.8" height="1.8" fill="#222"/>
<rect x="404.2" y="90.2" width="1.8" height="1.8" fill="#222"/>
<rect x="407.9" y="90.2" width="1.8" height="1.8" fill="#222"/>
<rect x="414.7" y="84.6" width="3.8" height="15.8" fill="#ff3347"/>
<text x="423.9" y="97.9" font-size="15.3" fill="#111" stroke="#111" stroke-width="0.45" textLength="110.6" lengthAdjust="spacingAndGlyphs" >MA (10, Close, 0)</text>
<path d="M545.6 90.4 L554.2 99 M554.2 90.4 L545.6 99" stroke="#222" stroke-width="1.3"/>
<path d="M559.7 94.1 Q567 84.9 574.3 94.1 Q567 103.3 559.7 94.1 Z" fill="none" stroke="#222" stroke-width="1.2"/>
<circle cx="567.2" cy="94.7" r="3.3" fill="#222"/>
<rect x="580.5" y="90.2" width="1.8" height="1.8" fill="#222"/>
<rect x="584.2" y="90.2" width="1.8" height="1.8" fill="#222"/>
<rect x="587.9" y="90.2" width="1.8" height="1.8" fill="#222"/>
<rect x="594.6" y="84.6" width="3.8" height="15.8" fill="#14c046"/>
<text x="604.3" y="97.9" font-size="15.3" fill="#111" stroke="#111" stroke-width="0.45" textLength="108.9" lengthAdjust="spacingAndGlyphs" >MA (50, Close, 0)</text>
<path d="M725 90.4 L733.6 99 M733.6 90.4 L725 99" stroke="#222" stroke-width="1.3"/>
<path d="M740 94.1 Q747.3 84.9 754.6 94.1 Q747.3 103.3 740 94.1 Z" fill="none" stroke="#222" stroke-width="1.2"/>
<circle cx="747.5" cy="94.7" r="3.3" fill="#222"/>
<rect x="759.3" y="90.2" width="1.8" height="1.8" fill="#222"/>
<rect x="763" y="90.2" width="1.8" height="1.8" fill="#222"/>
<rect x="766.7" y="90.2" width="1.8" height="1.8" fill="#222"/>
<rect x="774.2" y="84.6" width="3.8" height="15.8" fill="#9aa5ad"/>
<text x="783.3" y="97.9" font-size="15.3" fill="#111" stroke="#111" stroke-width="0.45" textLength="117.9" lengthAdjust="spacingAndGlyphs" >MA (100, Close, 0)</text>
<path d="M912.8 90.4 L921.4 99 M921.4 90.4 L912.8 99" stroke="#222" stroke-width="1.3"/>
<path d="M928 94.1 Q935.3 84.9 942.6 94.1 Q935.3 103.3 928 94.1 Z" fill="none" stroke="#222" stroke-width="1.2"/>
<circle cx="935.5" cy="94.7" r="3.3" fill="#222"/>
<rect x="947.3" y="90.2" width="1.8" height="1.8" fill="#222"/>
<rect x="951" y="90.2" width="1.8" height="1.8" fill="#222"/>
<rect x="954.7" y="90.2" width="1.8" height="1.8" fill="#222"/>
<rect x="961.8" y="84.6" width="3.8" height="15.8" fill="#912283"/>
<text x="971.6" y="97.9" font-size="15.3" fill="#111" stroke="#111" stroke-width="0.45" textLength="117.6" lengthAdjust="spacingAndGlyphs" >MA (200, Close, 0)</text>
<path d="M1820.4 90.8 L1823.9 94.5 L1827.4 90.8" fill="none" stroke="#555" stroke-width="1.2"/>
<text x="1848.8" y="121" font-size="13" fill="#666" textLength="44" lengthAdjust="spacingAndGlyphs" >260.000</text>
<text x="1848.8" y="221" font-size="13" fill="#666" textLength="44" lengthAdjust="spacingAndGlyphs" >220.000</text>
<text x="1848.8" y="271" font-size="13" fill="#666" textLength="44" lengthAdjust="spacingAndGlyphs" >200.000</text>
<text x="1848.8" y="321" font-size="13" fill="#666" textLength="44" lengthAdjust="spacingAndGlyphs" >180.000</text>
<text x="1848.8" y="371" font-size="13" fill="#666" textLength="44" lengthAdjust="spacingAndGlyphs" >160.000</text>
<text x="1848.8" y="421" font-size="13" fill="#666" textLength="44" lengthAdjust="spacingAndGlyphs" >140.000</text>
<text x="1848.8" y="471" font-size="13" fill="#666" textLength="44" lengthAdjust="spacingAndGlyphs" >120.000</text>
<text x="1848.8" y="521" font-size="13" fill="#666" textLength="44" lengthAdjust="spacingAndGlyphs" >100.000</text>
<text x="1848.8" y="571" font-size="13" fill="#666" textLength="37.4" lengthAdjust="spacingAndGlyphs" >80.000</text>
<rect x="1836.5" y="153.6" width="60.4" height="20.1" fill="#27ae4f"/>
<text x="1847.5" y="168.3" font-size="13" fill="#fff" font-weight="bold" textLength="44.5" lengthAdjust="spacingAndGlyphs" >241.175</text>
<rect x="1836.5" y="180.5" width="60.4" height="20.1" fill="#1a7ff0"/>
<text x="1847.5" y="195.2" font-size="13" fill="#fff" font-weight="bold" textLength="44.5" lengthAdjust="spacingAndGlyphs" >230.525</text>
<rect x="1836.5" y="233.6" width="60.4" height="2" fill="#2f6fe0"/>
<rect x="1836.5" y="214.2" width="60.4" height="20.4" fill="#ff3347"/>
<text x="1847.5" y="229.1" font-size="13" fill="#fff" font-weight="bold" textLength="44.5" lengthAdjust="spacingAndGlyphs" >216.898</text>
<rect x="1836.5" y="321.5" width="60.4" height="20.1" fill="#14b444"/>
<text x="1847.5" y="336.2" font-size="13" fill="#fff" font-weight="bold" textLength="44.5" lengthAdjust="spacingAndGlyphs" >173.860</text>
<rect x="1836.5" y="396.2" width="60.4" height="20.3" fill="#9aa5ad"/>
<text x="1847.5" y="411.1" font-size="13" fill="#fff" font-weight="bold" textLength="44.5" lengthAdjust="spacingAndGlyphs" >143.842</text>
<rect x="1836.5" y="424.9" width="60.4" height="20.9" fill="#912283"/>
<text x="1847.5" y="440.1" font-size="13" fill="#fff" font-weight="bold" textLength="44.5" lengthAdjust="spacingAndGlyphs" >132.336</text>
<rect x="41.5" y="617.5" width="1796" height="2" fill="#b3b3b3"/>
<rect x="131" y="619.5" width="1" height="140" fill="#d4d4d4"/>
<rect x="221" y="619.5" width="1" height="140" fill="#d4d4d4"/>
<rect x="311" y="619.5" width="1" height="140" fill="#d4d4d4"/>
<rect x="401" y="619.5" width="1" height="140" fill="#d4d4d4"/>
<rect x="491" y="619.5" width="1" height="140" fill="#d4d4d4"/>
<rect x="581" y="619.5" width="1" height="140" fill="#d4d4d4"/>
<rect x="671" y="619.5" width="1" height="140" fill="#d4d4d4"/>
<rect x="761" y="619.5" width="1" height="140" fill="#d4d4d4"/>
<rect x="851" y="619.5" width="1" height="140" fill="#d4d4d4"/>
<rect x="941" y="619.5" width="1" height="140" fill="#d4d4d4"/>
<rect x="1031" y="619.5" width="1" height="140" fill="#d4d4d4"/>
<rect x="1121" y="619.5" width="1" height="140" fill="#d4d4d4"/>
<rect x="1211" y="619.5" width="1" height="140" fill="#d4d4d4"/>
<rect x="1301" y="619.5" width="1" height="140" fill="#d4d4d4"/>
<rect x="1391" y="619.5" width="1" height="140" fill="#d4d4d4"/>
<rect x="1481" y="619.5" width="1" height="140" fill="#d4d4d4"/>
<rect x="1571" y="619.5" width="1" height="140" fill="#d4d4d4"/>
<rect x="1661" y="619.5" width="1" height="140" fill="#d4d4d4"/>
<rect x="1751" y="619.5" width="1" height="140" fill="#d4d4d4"/>
<rect x="41.5" y="650.8" width="1796" height="1.6" fill="#e6e6e6"/>
<rect x="41.5" y="701.1" width="1796" height="1.6" fill="#e6e6e6"/>
<rect x="41.5" y="751.3" width="1796" height="1.6" fill="#e6e6e6"/>
<g clip-path="url(#cVol)">
<rect x="36.5" y="736.8" width="10" height="14.7" fill="#f04124"/>
<rect x="51.5" y="740.1" width="10" height="11.4" fill="#00b04f"/>
<rect x="66.5" y="738.5" width="10" height="13" fill="#f04124"/>
<rect x="81.5" y="740.1" width="10" height="11.4" fill="#f04124"/>
<rect x="96.5" y="737.1" width="10" height="14.4" fill="#00b04f"/>
<rect x="111.5" y="742.3" width="10" height="9.2" fill="#f04124"/>
<rect x="126.5" y="738.5" width="10" height="13" fill="#f04124"/>
<rect x="141.5" y="741.1" width="10" height="10.4" fill="#f04124"/>
<rect x="156.5" y="736.1" width="10" height="15.4" fill="#f04124"/>
<rect x="171.5" y="739.7" width="10" height="11.8" fill="#00b04f"/>
<rect x="186.5" y="736.8" width="10" height="14.7" fill="#00b04f"/>
<rect x="201.5" y="739" width="10" height="12.5" fill="#00b04f"/>
<rect x="216.5" y="735.6" width="10" height="15.9" fill="#f04124"/>
<rect x="231.5" y="739.2" width="10" height="12.3" fill="#00b04f"/>
<rect x="246.5" y="734.9" width="10" height="16.6" fill="#f04124"/>
<rect x="261.5" y="735.4" width="10" height="16.1" fill="#00b04f"/>
<rect x="276.5" y="727.3" width="10" height="24.2" fill="#f04124"/>
<rect x="291.5" y="738" width="10" height="13.5" fill="#f04124"/>
<rect x="306.5" y="733.3" width="10" height="18.2" fill="#f04124"/>
<rect x="321.5" y="739.2" width="10" height="12.3" fill="#f04124"/>
<rect x="336.5" y="734.9" width="10" height="16.6" fill="#00b04f"/>
<rect x="351.5" y="737.8" width="10" height="13.7" fill="#00b04f"/>
<rect x="366.5" y="734" width="10" height="17.5" fill="#f04124"/>
<rect x="381.5" y="739.7" width="10" height="11.8" fill="#f04124"/>
<rect x="396.5" y="734.2" width="10" height="17.3" fill="#00b04f"/>
<rect x="411.5" y="737.8" width="10" height="13.7" fill="#f04124"/>
<rect x="426.5" y="732.6" width="10" height="18.9" fill="#f04124"/>
<rect x="441.5" y="736.4" width="10" height="15.1" fill="#00b04f"/>
<rect x="456.5" y="732.8" width="10" height="18.7" fill="#f04124"/>
<rect x="471.5" y="737.8" width="10" height="13.7" fill="#00b04f"/>
<rect x="486.5" y="734.5" width="10" height="17" fill="#00b04f"/>
<rect x="501.5" y="739" width="10" height="12.5" fill="#f04124"/>
<rect x="516.5" y="733.3" width="10" height="18.2" fill="#00b04f"/>
<rect x="531.5" y="736.8" width="10" height="14.7" fill="#f04124"/>
<rect x="546.5" y="734.5" width="10" height="17" fill="#00b04f"/>
<rect x="561.5" y="737.8" width="10" height="13.7" fill="#00b04f"/>
<rect x="576.5" y="732.1" width="10" height="19.4" fill="#00b04f"/>
<rect x="591.5" y="736.8" width="10" height="14.7" fill="#00b04f"/>
<rect x="606.5" y="730.7" width="10" height="20.8" fill="#f04124"/>
<rect x="621.5" y="734.9" width="10" height="16.6" fill="#f04124"/>
<rect x="636.5" y="731.8" width="10" height="19.7" fill="#f04124"/>
<rect x="651.5" y="737.8" width="10" height="13.7" fill="#00b04f"/>
<rect x="666.5" y="736.8" width="10" height="14.7" fill="#00b04f"/>
<rect x="681.5" y="736.6" width="10" height="14.9" fill="#f04124"/>
<rect x="696.5" y="732.8" width="10" height="18.7" fill="#00b04f"/>
<rect x="711.5" y="739.2" width="10" height="12.3" fill="#00b04f"/>
<rect x="726.5" y="733.3" width="10" height="18.2" fill="#00b04f"/>
<rect x="741.5" y="740.4" width="10" height="11.1" fill="#f04124"/>
<rect x="756.5" y="732.8" width="10" height="18.7" fill="#f04124"/>
<rect x="771.5" y="732.8" width="10" height="18.7" fill="#f04124"/>
<rect x="786.5" y="727.1" width="10" height="24.4" fill="#f04124"/>
<rect x="801.5" y="737.5" width="10" height="14" fill="#f04124"/>
<rect x="816.5" y="733" width="10" height="18.5" fill="#00b04f"/>
<rect x="831.5" y="740.6" width="10" height="10.9" fill="#f04124"/>
<rect x="846.5" y="736.1" width="10" height="15.4" fill="#00b04f"/>
<rect x="861.5" y="738.5" width="10" height="13" fill="#f04124"/>
<rect x="876.5" y="735.9" width="10" height="15.6" fill="#00b04f"/>
<rect x="891.5" y="737.8" width="10" height="13.7" fill="#f04124"/>
<rect x="906.5" y="736.8" width="10" height="14.7" fill="#00b04f"/>
<rect x="921.5" y="741.6" width="10" height="9.9" fill="#00b04f"/>
<rect x="936.5" y="733.3" width="10" height="18.2" fill="#00b04f"/>
<rect x="951.5" y="738" width="10" height="13.5" fill="#f04124"/>
<rect x="966.5" y="737.1" width="10" height="14.4" fill="#00b04f"/>
<rect x="981.5" y="738" width="10" height="13.5" fill="#f04124"/>
<rect x="996.5" y="737.1" width="10" height="14.4" fill="#00b04f"/>
<rect x="1011.5" y="740.4" width="10" height="11.1" fill="#00b04f"/>
<rect x="1026.5" y="737.5" width="10" height="14" fill="#00b04f"/>
<rect x="1041.5" y="739.2" width="10" height="12.3" fill="#f04124"/>
<rect x="1056.5" y="735.6" width="10" height="15.9" fill="#f04124"/>
<rect x="1071.5" y="741.3" width="10" height="10.2" fill="#00b04f"/>
<rect x="1086.5" y="736.6" width="10" height="14.9" fill="#00b04f"/>
<rect x="1101.5" y="741.1" width="10" height="10.4" fill="#00b04f"/>
<rect x="1116.5" y="734.2" width="10" height="17.3" fill="#00b04f"/>
<rect x="1131.5" y="737.1" width="10" height="14.4" fill="#f04124"/>
<rect x="1146.5" y="735.2" width="10" height="16.3" fill="#f04124"/>
<rect x="1161.5" y="739.2" width="10" height="12.3" fill="#f04124"/>
<rect x="1176.5" y="736.4" width="10" height="15.1" fill="#f04124"/>
<rect x="1191.5" y="739" width="10" height="12.5" fill="#00b04f"/>
<rect x="1206.5" y="737.5" width="10" height="14" fill="#00b04f"/>
<rect x="1221.5" y="740.9" width="10" height="10.6" fill="#00b04f"/>
<rect x="1236.5" y="736.1" width="10" height="15.4" fill="#00b04f"/>
<rect x="1251.5" y="739.4" width="10" height="12.1" fill="#00b04f"/>
<rect x="1266.5" y="737.3" width="10" height="14.2" fill="#00b04f"/>
<rect x="1281.5" y="741.3" width="10" height="10.2" fill="#00b04f"/>
<rect x="1296.5" y="734.2" width="10" height="17.3" fill="#00b04f"/>
<rect x="1311.5" y="738.5" width="10" height="13" fill="#00b04f"/>
<rect x="1326.5" y="734" width="10" height="17.5" fill="#f04124"/>
<rect x="1341.5" y="738.5" width="10" height="13" fill="#00b04f"/>
<rect x="1356.5" y="734" width="10" height="17.5" fill="#00b04f"/>
<rect x="1371.5" y="734.5" width="10" height="17" fill="#00b04f"/>
<rect x="1386.5" y="732.6" width="10" height="18.9" fill="#00b04f"/>
<rect x="1401.5" y="738.5" width="10" height="13" fill="#00b04f"/>
<rect x="1416.5" y="734.5" width="10" height="17" fill="#00b04f"/>
<rect x="1431.5" y="735.6" width="10" height="15.9" fill="#f04124"/>
<rect x="1446.5" y="733.7" width="10" height="17.8" fill="#f04124"/>
<rect x="1461.5" y="739.7" width="10" height="11.8" fill="#f04124"/>
<rect x="1476.5" y="735.9" width="10" height="15.6" fill="#00b04f"/>
<rect x="1491.5" y="737.1" width="10" height="14.4" fill="#00b04f"/>
<rect x="1506.5" y="734" width="10" height="17.5" fill="#f04124"/>
<rect x="1521.5" y="734.9" width="10" height="16.6" fill="#f04124"/>
<rect x="1536.5" y="736.1" width="10" height="15.4" fill="#00b04f"/>
<rect x="1551.5" y="737.3" width="10" height="14.2" fill="#00b04f"/>
<rect x="1566.5" y="734.2" width="10" height="17.3" fill="#00b04f"/>
<rect x="1581.5" y="736.1" width="10" height="15.4" fill="#f04124"/>
<rect x="1596.5" y="736.1" width="10" height="15.4" fill="#00b04f"/>
<rect x="1611.5" y="738.5" width="10" height="13" fill="#00b04f"/>
<rect x="1626.5" y="734.9" width="10" height="16.6" fill="#00b04f"/>
<rect x="1641.5" y="738" width="10" height="13.5" fill="#00b04f"/>
<rect x="1656.5" y="729.7" width="10" height="21.8" fill="#00b04f"/>
<rect x="1671.5" y="736.6" width="10" height="14.9" fill="#f04124"/>
<rect x="1686.5" y="729.7" width="10" height="21.8" fill="#00b04f"/>
<rect x="1701.5" y="733.3" width="10" height="18.2" fill="#00b04f"/>
<rect x="1716.5" y="732.1" width="10" height="19.4" fill="#f04124"/>
<rect x="1731.5" y="734.9" width="10" height="16.6" fill="#00b04f"/>
<rect x="1746.5" y="729.5" width="10" height="22" fill="#00b04f"/>
<rect x="1761.5" y="732.6" width="10" height="18.9" fill="#00b04f"/>
<rect x="1776.5" y="730" width="10" height="21.5" fill="#f04124"/>
<rect x="1791.5" y="730.9" width="10" height="20.6" fill="#00b04f"/>
<polyline points="41.5,683.5 56.5,684 71.5,678.8 86.5,681.1 101.5,684 116.5,690.1 131.5,689.7 146.5,690.1 161.5,686.4 176.5,684.9 191.5,682.1 206.5,678.3 221.5,668.8 236.5,668.8 251.5,662.2 266.5,650.8 281.5,646.8 296.5,651.3 311.5,659.1 326.5,671.4 341.5,670.2 356.5,668.6 371.5,656.7 386.5,666.7 401.5,663.8 416.5,659.1 431.5,660.8 446.5,664.5 461.5,662.7 476.5,669.8 491.5,672.1 506.5,676.4 521.5,673.3 536.5,668.1 551.5,666.4 566.5,665 581.5,655.5 596.5,653.9 611.5,642.5 626.5,641.8 641.5,656 656.5,662.7 671.5,669.1 686.5,670.5 701.5,667.4 716.5,674.5 731.5,661.5 746.5,656.7 761.5,656 776.5,666.2 791.5,675.7 806.5,685.6 821.5,685.6 836.5,684 851.5,683.3 866.5,678.8 881.5,678.3 896.5,682.1 911.5,683 926.5,680.4 941.5,672.6 956.5,669.3 971.5,668.1 986.5,668.8 1001.5,672.6 1016.5,676.9 1031.5,676.9 1046.5,677.8 1061.5,677.6 1076.5,681.1 1091.5,676.4 1106.5,675 1121.5,669.3 1136.5,663.4 1151.5,671.7 1166.5,675.2 1181.5,676.2 1196.5,681.1 1211.5,685.6 1226.5,685.6 1241.5,678.3 1256.5,684 1271.5,679.2 1286.5,676.4 1301.5,672.1 1316.5,669.3 1331.5,668.6 1346.5,666.9 1361.5,669.8 1376.5,667.4 1391.5,666.2 1406.5,674.5 1421.5,670.2 1436.5,679.2 1451.5,680.9 1466.5,685.9 1481.5,684 1496.5,679.2 1511.5,673.3 1526.5,682.1 1541.5,682.3 1556.5,680.4 1571.5,670.5 1586.5,679.2 1601.5,676.4 1616.5,669.3 1631.5,664.1 1646.5,665.7 1661.5,657.4 1676.5,659.6 1691.5,657.9 1706.5,663.4 1721.5,655.1 1736.5,654.4 1751.5,652.7 1766.5,655.5 1781.5,655.1 1796.5,660.3" fill="none" stroke="#bb44cc" stroke-width="2" stroke-linejoin="round" />
</g>
<path d="M60.3 637.2 L68.7 645.6 M68.7 637.2 L60.3 645.6" stroke="#222" stroke-width="1.3"/>
<path d="M75.2 641 Q82.5 631.8 89.8 641 Q82.5 650.2 75.2 641 Z" fill="none" stroke="#222" stroke-width="1.2"/>
<circle cx="82.7" cy="641.6" r="3.3" fill="#222"/>
<rect x="94.9" y="637.3" width="1.8" height="1.8" fill="#222"/>
<rect x="98.6" y="637.3" width="1.8" height="1.8" fill="#222"/>
<rect x="102.3" y="637.3" width="1.8" height="1.8" fill="#222"/>
<rect x="109.9" y="631" width="3.8" height="17" fill="#f04124"/>
<text x="119" y="644.5" font-size="15.3" fill="#111" stroke="#111" stroke-width="0.45" textLength="100.6" lengthAdjust="spacingAndGlyphs" >VOL (LikeMain)</text>
<path d="M1807.7 641.5 L1810.6 638.6 L1813.5 641.5" fill="none" stroke="#444" stroke-width="1.1"/>
<path d="M1820.8 638.8 L1823.8 641.8 L1826.8 638.8" fill="none" stroke="#444" stroke-width="1.1"/>
<text x="1848.8" y="706" font-size="13" fill="#666" textLength="29.5" lengthAdjust="spacingAndGlyphs" >200K</text>
<text x="1848.8" y="756.1" font-size="13" fill="#666" textLength="14.8" lengthAdjust="spacingAndGlyphs" >0K</text>
<text x="1848.8" y="656.1" font-size="13" fill="#666" textLength="29.5" lengthAdjust="spacingAndGlyphs" >400K</text>
<rect x="1836.5" y="650.4" width="44.5" height="20.4" fill="#bb44cc"/>
<text x="1847.5" y="665.3" font-size="13" fill="#fff" font-weight="bold" textLength="29" lengthAdjust="spacingAndGlyphs" >366K</text>
<rect x="1836.5" y="720.6" width="37.5" height="20.9" fill="#00b04f"/>
<text x="1847.5" y="735.8" font-size="13" fill="#fff" font-weight="bold" textLength="22.3" lengthAdjust="spacingAndGlyphs" >83K</text>
<rect x="41.5" y="758.5" width="1796" height="2" fill="#b3b3b3"/>
<rect x="131" y="760.5" width="1" height="142" fill="#d4d4d4"/>
<rect x="221" y="760.5" width="1" height="142" fill="#d4d4d4"/>
<rect x="311" y="760.5" width="1" height="142" fill="#d4d4d4"/>
<rect x="401" y="760.5" width="1" height="142" fill="#d4d4d4"/>
<rect x="491" y="760.5" width="1" height="142" fill="#d4d4d4"/>
<rect x="581" y="760.5" width="1" height="142" fill="#d4d4d4"/>
<rect x="671" y="760.5" width="1" height="142" fill="#d4d4d4"/>
<rect x="761" y="760.5" width="1" height="142" fill="#d4d4d4"/>
<rect x="851" y="760.5" width="1" height="142" fill="#d4d4d4"/>
<rect x="941" y="760.5" width="1" height="142" fill="#d4d4d4"/>
<rect x="1031" y="760.5" width="1" height="142" fill="#d4d4d4"/>
<rect x="1121" y="760.5" width="1" height="142" fill="#d4d4d4"/>
<rect x="1211" y="760.5" width="1" height="142" fill="#d4d4d4"/>
<rect x="1301" y="760.5" width="1" height="142" fill="#d4d4d4"/>
<rect x="1391" y="760.5" width="1" height="142" fill="#d4d4d4"/>
<rect x="1481" y="760.5" width="1" height="142" fill="#d4d4d4"/>
<rect x="1571" y="760.5" width="1" height="142" fill="#d4d4d4"/>
<rect x="1661" y="760.5" width="1" height="142" fill="#d4d4d4"/>
<rect x="1751" y="760.5" width="1" height="142" fill="#d4d4d4"/>
<rect x="41.5" y="781.7" width="1796" height="1.6" fill="#e6e6e6"/>
<rect x="41.5" y="887.2" width="1796" height="1.6" fill="#e6e6e6"/>
<rect x="41.5" y="802.8" width="1796" height="1.6" fill="#8c8c8c"/>
<rect x="41.5" y="866" width="1796" height="1.6" fill="#8c8c8c"/>
<line x1="41.5" y1="835.2" x2="1837" y2="835.2" stroke="#555" stroke-width="1.2" stroke-dasharray="5,3,1.5,3"/>
<g clip-path="url(#cSt)">
<g clip-path="url(#cHi)"><polygon points="41.5,803.6 41.5,861.9 56.5,852.4 71.5,881.3 86.5,885.1 101.5,871.4 116.5,875.6 131.5,873.7 146.5,881.3 161.5,886.3 176.5,871.4 191.5,853.1 206.5,842.2 221.5,842.9 236.5,833.9 251.5,850.5 266.5,818.5 281.5,817.6 296.5,832.3 311.5,844.8 326.5,862.4 341.5,833.5 356.5,807.4 371.5,809.1 386.5,822.8 401.5,822.8 416.5,822.1 431.5,888 446.5,862.4 461.5,867.8 476.5,858.3 491.5,848.9 506.5,850.8 521.5,818.8 536.5,824.7 551.5,814.5 566.5,803.4 581.5,793.2 596.5,783.2 611.5,818.8 626.5,833.9 641.5,868.5 656.5,867.1 671.5,862.4 686.5,883.7 701.5,840.1 716.5,820.4 731.5,794.8 746.5,795.5 761.5,813.3 776.5,847.2 791.5,871.4 806.5,869.5 821.5,841.3 836.5,847.7 851.5,824 866.5,829.4 881.5,815.2 896.5,823.5 911.5,814 926.5,809.8 941.5,795.5 956.5,799.1 971.5,790.8 986.5,803.8 1001.5,799.8 1016.5,793.2 1031.5,790.8 1046.5,797.9 1061.5,806.9 1076.5,795.5 1091.5,793.2 1106.5,789.1 1121.5,783.7 1136.5,803.8 1151.5,816.9 1166.5,829.4 1181.5,835.8 1196.5,829.9 1211.5,803.1 1226.5,804.3 1241.5,802.2 1256.5,788.9 1271.5,787.3 1286.5,787.3 1301.5,784.4 1316.5,784.9 1331.5,795.5 1346.5,786.1 1361.5,783 1376.5,784.4 1391.5,794.8 1406.5,793.2 1421.5,791.3 1436.5,800.8 1451.5,829.2 1466.5,842.9 1481.5,813.3 1496.5,802.2 1511.5,815 1526.5,830.1 1541.5,827.1 1556.5,804.3 1571.5,802.2 1586.5,830.1 1601.5,808.6 1616.5,803.4 1631.5,789.1 1646.5,788.4 1661.5,795.5 1676.5,823.3 1691.5,794.4 1706.5,789.6 1721.5,797.2 1736.5,796.7 1751.5,796 1766.5,786.8 1781.5,794.4 1796.5,792.7 1796.5,803.6" fill="#0020ff" fill-opacity="0.29"/></g>
<g clip-path="url(#cLo)"><polygon points="41.5,866.8 41.5,861.9 56.5,852.4 71.5,881.3 86.5,885.1 101.5,871.4 116.5,875.6 131.5,873.7 146.5,881.3 161.5,886.3 176.5,871.4 191.5,853.1 206.5,842.2 221.5,842.9 236.5,833.9 251.5,850.5 266.5,818.5 281.5,817.6 296.5,832.3 311.5,844.8 326.5,862.4 341.5,833.5 356.5,807.4 371.5,809.1 386.5,822.8 401.5,822.8 416.5,822.1 431.5,888 446.5,862.4 461.5,867.8 476.5,858.3 491.5,848.9 506.5,850.8 521.5,818.8 536.5,824.7 551.5,814.5 566.5,803.4 581.5,793.2 596.5,783.2 611.5,818.8 626.5,833.9 641.5,868.5 656.5,867.1 671.5,862.4 686.5,883.7 701.5,840.1 716.5,820.4 731.5,794.8 746.5,795.5 761.5,813.3 776.5,847.2 791.5,871.4 806.5,869.5 821.5,841.3 836.5,847.7 851.5,824 866.5,829.4 881.5,815.2 896.5,823.5 911.5,814 926.5,809.8 941.5,795.5 956.5,799.1 971.5,790.8 986.5,803.8 1001.5,799.8 1016.5,793.2 1031.5,790.8 1046.5,797.9 1061.5,806.9 1076.5,795.5 1091.5,793.2 1106.5,789.1 1121.5,783.7 1136.5,803.8 1151.5,816.9 1166.5,829.4 1181.5,835.8 1196.5,829.9 1211.5,803.1 1226.5,804.3 1241.5,802.2 1256.5,788.9 1271.5,787.3 1286.5,787.3 1301.5,784.4 1316.5,784.9 1331.5,795.5 1346.5,786.1 1361.5,783 1376.5,784.4 1391.5,794.8 1406.5,793.2 1421.5,791.3 1436.5,800.8 1451.5,829.2 1466.5,842.9 1481.5,813.3 1496.5,802.2 1511.5,815 1526.5,830.1 1541.5,827.1 1556.5,804.3 1571.5,802.2 1586.5,830.1 1601.5,808.6 1616.5,803.4 1631.5,789.1 1646.5,788.4 1661.5,795.5 1676.5,823.3 1691.5,794.4 1706.5,789.6 1721.5,797.2 1736.5,796.7 1751.5,796 1766.5,786.8 1781.5,794.4 1796.5,792.7 1796.5,866.8" fill="#ff0020" fill-opacity="0.3"/></g>
<g clip-path="url(#cHi)"><polyline points="41.5,861.9 56.5,852.4 71.5,881.3 86.5,885.1 101.5,871.4 116.5,875.6 131.5,873.7 146.5,881.3 161.5,886.3 176.5,871.4 191.5,853.1 206.5,842.2 221.5,842.9 236.5,833.9 251.5,850.5 266.5,818.5 281.5,817.6 296.5,832.3 311.5,844.8 326.5,862.4 341.5,833.5 356.5,807.4 371.5,809.1 386.5,822.8 401.5,822.8 416.5,822.1 431.5,888 446.5,862.4 461.5,867.8 476.5,858.3 491.5,848.9 506.5,850.8 521.5,818.8 536.5,824.7 551.5,814.5 566.5,803.4 581.5,793.2 596.5,783.2 611.5,818.8 626.5,833.9 641.5,868.5 656.5,867.1 671.5,862.4 686.5,883.7 701.5,840.1 716.5,820.4 731.5,794.8 746.5,795.5 761.5,813.3 776.5,847.2 791.5,871.4 806.5,869.5 821.5,841.3 836.5,847.7 851.5,824 866.5,829.4 881.5,815.2 896.5,823.5 911.5,814 926.5,809.8 941.5,795.5 956.5,799.1 971.5,790.8 986.5,803.8 1001.5,799.8 1016.5,793.2 1031.5,790.8 1046.5,797.9 1061.5,806.9 1076.5,795.5 1091.5,793.2 1106.5,789.1 1121.5,783.7 1136.5,803.8 1151.5,816.9 1166.5,829.4 1181.5,835.8 1196.5,829.9 1211.5,803.1 1226.5,804.3 1241.5,802.2 1256.5,788.9 1271.5,787.3 1286.5,787.3 1301.5,784.4 1316.5,784.9 1331.5,795.5 1346.5,786.1 1361.5,783 1376.5,784.4 1391.5,794.8 1406.5,793.2 1421.5,791.3 1436.5,800.8 1451.5,829.2 1466.5,842.9 1481.5,813.3 1496.5,802.2 1511.5,815 1526.5,830.1 1541.5,827.1 1556.5,804.3 1571.5,802.2 1586.5,830.1 1601.5,808.6 1616.5,803.4 1631.5,789.1 1646.5,788.4 1661.5,795.5 1676.5,823.3 1691.5,794.4 1706.5,789.6 1721.5,797.2 1736.5,796.7 1751.5,796 1766.5,786.8 1781.5,794.4 1796.5,792.7" fill="none" stroke="#1030ff" stroke-width="2" stroke-linejoin="round"/></g>
<g clip-path="url(#cMid)"><polyline points="41.5,861.9 56.5,852.4 71.5,881.3 86.5,885.1 101.5,871.4 116.5,875.6 131.5,873.7 146.5,881.3 161.5,886.3 176.5,871.4 191.5,853.1 206.5,842.2 221.5,842.9 236.5,833.9 251.5,850.5 266.5,818.5 281.5,817.6 296.5,832.3 311.5,844.8 326.5,862.4 341.5,833.5 356.5,807.4 371.5,809.1 386.5,822.8 401.5,822.8 416.5,822.1 431.5,888 446.5,862.4 461.5,867.8 476.5,858.3 491.5,848.9 506.5,850.8 521.5,818.8 536.5,824.7 551.5,814.5 566.5,803.4 581.5,793.2 596.5,783.2 611.5,818.8 626.5,833.9 641.5,868.5 656.5,867.1 671.5,862.4 686.5,883.7 701.5,840.1 716.5,820.4 731.5,794.8 746.5,795.5 761.5,813.3 776.5,847.2 791.5,871.4 806.5,869.5 821.5,841.3 836.5,847.7 851.5,824 866.5,829.4 881.5,815.2 896.5,823.5 911.5,814 926.5,809.8 941.5,795.5 956.5,799.1 971.5,790.8 986.5,803.8 1001.5,799.8 1016.5,793.2 1031.5,790.8 1046.5,797.9 1061.5,806.9 1076.5,795.5 1091.5,793.2 1106.5,789.1 1121.5,783.7 1136.5,803.8 1151.5,816.9 1166.5,829.4 1181.5,835.8 1196.5,829.9 1211.5,803.1 1226.5,804.3 1241.5,802.2 1256.5,788.9 1271.5,787.3 1286.5,787.3 1301.5,784.4 1316.5,784.9 1331.5,795.5 1346.5,786.1 1361.5,783 1376.5,784.4 1391.5,794.8 1406.5,793.2 1421.5,791.3 1436.5,800.8 1451.5,829.2 1466.5,842.9 1481.5,813.3 1496.5,802.2 1511.5,815 1526.5,830.1 1541.5,827.1 1556.5,804.3 1571.5,802.2 1586.5,830.1 1601.5,808.6 1616.5,803.4 1631.5,789.1 1646.5,788.4 1661.5,795.5 1676.5,823.3 1691.5,794.4 1706.5,789.6 1721.5,797.2 1736.5,796.7 1751.5,796 1766.5,786.8 1781.5,794.4 1796.5,792.7" fill="none" stroke="#0aa84a" stroke-width="2" stroke-linejoin="round"/></g>
<g clip-path="url(#cLo)"><polyline points="41.5,861.9 56.5,852.4 71.5,881.3 86.5,885.1 101.5,871.4 116.5,875.6 131.5,873.7 146.5,881.3 161.5,886.3 176.5,871.4 191.5,853.1 206.5,842.2 221.5,842.9 236.5,833.9 251.5,850.5 266.5,818.5 281.5,817.6 296.5,832.3 311.5,844.8 326.5,862.4 341.5,833.5 356.5,807.4 371.5,809.1 386.5,822.8 401.5,822.8 416.5,822.1 431.5,888 446.5,862.4 461.5,867.8 476.5,858.3 491.5,848.9 506.5,850.8 521.5,818.8 536.5,824.7 551.5,814.5 566.5,803.4 581.5,793.2 596.5,783.2 611.5,818.8 626.5,833.9 641.5,868.5 656.5,867.1 671.5,862.4 686.5,883.7 701.5,840.1 716.5,820.4 731.5,794.8 746.5,795.5 761.5,813.3 776.5,847.2 791.5,871.4 806.5,869.5 821.5,841.3 836.5,847.7 851.5,824 866.5,829.4 881.5,815.2 896.5,823.5 911.5,814 926.5,809.8 941.5,795.5 956.5,799.1 971.5,790.8 986.5,803.8 1001.5,799.8 1016.5,793.2 1031.5,790.8 1046.5,797.9 1061.5,806.9 1076.5,795.5 1091.5,793.2 1106.5,789.1 1121.5,783.7 1136.5,803.8 1151.5,816.9 1166.5,829.4 1181.5,835.8 1196.5,829.9 1211.5,803.1 1226.5,804.3 1241.5,802.2 1256.5,788.9 1271.5,787.3 1286.5,787.3 1301.5,784.4 1316.5,784.9 1331.5,795.5 1346.5,786.1 1361.5,783 1376.5,784.4 1391.5,794.8 1406.5,793.2 1421.5,791.3 1436.5,800.8 1451.5,829.2 1466.5,842.9 1481.5,813.3 1496.5,802.2 1511.5,815 1526.5,830.1 1541.5,827.1 1556.5,804.3 1571.5,802.2 1586.5,830.1 1601.5,808.6 1616.5,803.4 1631.5,789.1 1646.5,788.4 1661.5,795.5 1676.5,823.3 1691.5,794.4 1706.5,789.6 1721.5,797.2 1736.5,796.7 1751.5,796 1766.5,786.8 1781.5,794.4 1796.5,792.7" fill="none" stroke="#ff1a2a" stroke-width="2" stroke-linejoin="round"/></g>
<polyline points="41.5,864.3 56.5,856.7 71.5,865.2 86.5,872.9 101.5,879.3 116.5,877.4 131.5,873.6 146.5,876.9 161.5,880.4 176.5,879.7 191.5,870.3 206.5,855.6 221.5,846.1 236.5,839.7 251.5,842.4 266.5,834.3 281.5,828.9 296.5,822.8 311.5,831.6 326.5,846.5 341.5,846.9 356.5,834.4 371.5,816.7 386.5,813.1 401.5,818.2 416.5,822.6 431.5,844.3 446.5,857.5 461.5,872.7 476.5,862.8 491.5,858.3 506.5,852.7 521.5,839.5 536.5,831.4 551.5,819.3 566.5,814.2 581.5,803.7 596.5,793.3 611.5,798.4 626.5,812 641.5,840.4 656.5,856.5 671.5,866 686.5,871.1 701.5,862.1 716.5,848.1 731.5,818.4 746.5,803.6 761.5,801.2 776.5,818.7 791.5,844 806.5,862.7 821.5,860.7 836.5,852.8 851.5,837.7 866.5,833.7 881.5,822.9 896.5,822.7 911.5,817.6 926.5,815.8 941.5,806.4 956.5,801.5 971.5,795.1 986.5,797.9 1001.5,798.1 1016.5,798.9 1031.5,794.6 1046.5,794 1061.5,798.5 1076.5,800.1 1091.5,798.5 1106.5,792.6 1121.5,788.7 1136.5,792.2 1151.5,801.5 1166.5,816.7 1181.5,827.4 1196.5,831.7 1211.5,822.9 1226.5,812.4 1241.5,803.2 1256.5,798.5 1271.5,792.8 1286.5,787.8 1301.5,786.3 1316.5,785.5 1331.5,788.3 1346.5,788.8 1361.5,788.2 1376.5,784.5 1391.5,787.4 1406.5,790.8 1421.5,793.1 1436.5,795.1 1451.5,807.1 1466.5,824.3 1481.5,828.5 1496.5,819.5 1511.5,810.2 1526.5,815.8 1541.5,824.1 1556.5,820.5 1571.5,811.2 1586.5,812.2 1601.5,813.6 1616.5,814 1631.5,800.4 1646.5,793.6 1661.5,791 1676.5,802.4 1691.5,804.4 1706.5,802.4 1721.5,793.7 1736.5,794.5 1751.5,796.6 1766.5,793.2 1781.5,792.4 1796.5,791.3" fill="none" stroke="#f08a40" stroke-width="2" stroke-linejoin="round"/>
</g>
<rect x="41.5" y="897" width="1796" height="1" fill="#cfcfcf"/>
<path d="M60.3 778.2 L68.7 786.6 M68.7 778.2 L60.3 786.6" stroke="#222" stroke-width="1.3"/>
<path d="M75.2 782 Q82.5 772.8 89.8 782 Q82.5 791.2 75.2 782 Z" fill="none" stroke="#222" stroke-width="1.2"/>
<circle cx="82.7" cy="782.6" r="3.3" fill="#222"/>
<rect x="94.9" y="778.3" width="1.8" height="1.8" fill="#222"/>
<rect x="98.6" y="778.3" width="1.8" height="1.8" fill="#222"/>
<rect x="102.3" y="778.3" width="1.8" height="1.8" fill="#222"/>
<rect x="109.9" y="772" width="3.8" height="17" fill="#ff1a2a"/>
<text x="118.5" y="785.5" font-size="15.3" fill="#111" stroke="#111" stroke-width="0.45" textLength="130.5" lengthAdjust="spacingAndGlyphs" >STOCHF (14, 3, MA)</text>
<path d="M1820.8 783.5 L1823.8 780.6 L1826.8 783.5" fill="none" stroke="#444" stroke-width="1.1"/>
<text x="1848.8" y="839.3" font-size="13" fill="#666" textLength="31.5" lengthAdjust="spacingAndGlyphs" >50.00</text>
<text x="1848.8" y="892" font-size="13" fill="#666" textLength="24.3" lengthAdjust="spacingAndGlyphs" >0.00</text>
<text x="1848.8" y="786.5" font-size="13" fill="#666" textLength="38.5" lengthAdjust="spacingAndGlyphs" >100.00</text>
<rect x="1836.5" y="780.4" width="46.5" height="2.2" fill="#f08a40"/>
<rect x="1836.5" y="782" width="46.5" height="21.2" fill="#1030ff"/>
<text x="1847.5" y="797.3" font-size="13" fill="#fff" font-weight="bold" textLength="32.5" lengthAdjust="spacingAndGlyphs" >90.44</text>
<rect x="41" y="898" width="1" height="4.5" fill="#cfcfcf"/>
<text x="44" y="917.6" font-size="13.8" fill="#555" textLength="16.3" lengthAdjust="spacingAndGlyphs" >'16</text>
<rect x="131" y="898" width="1" height="4.5" fill="#cfcfcf"/>
<text x="114.4" y="917.6" font-size="13.8" fill="#555" textLength="34.2" lengthAdjust="spacingAndGlyphs" >Jul '16</text>
<rect x="221" y="898" width="1" height="4.5" fill="#cfcfcf"/>
<text x="202.6" y="917.6" font-size="13.8" fill="#555" textLength="37.9" lengthAdjust="spacingAndGlyphs" >Jan '17</text>
<rect x="311" y="898" width="1" height="4.5" fill="#cfcfcf"/>
<text x="294.4" y="917.6" font-size="13.8" fill="#555" textLength="34.2" lengthAdjust="spacingAndGlyphs" >Jul '17</text>
<rect x="401" y="898" width="1" height="4.5" fill="#cfcfcf"/>
<text x="382.6" y="917.6" font-size="13.8" fill="#555" textLength="37.9" lengthAdjust="spacingAndGlyphs" >Jan '18</text>
<rect x="491" y="898" width="1" height="4.5" fill="#cfcfcf"/>
<text x="474.4" y="917.6" font-size="13.8" fill="#555" textLength="34.2" lengthAdjust="spacingAndGlyphs" >Jul '18</text>
<rect x="581" y="898" width="1" height="4.5" fill="#cfcfcf"/>
<text x="562.5" y="917.6" font-size="13.8" fill="#555" textLength="37.9" lengthAdjust="spacingAndGlyphs" >Jan '19</text>
<rect x="671" y="898" width="1" height="4.5" fill="#cfcfcf"/>
<text x="654.4" y="917.6" font-size="13.8" fill="#555" textLength="34.2" lengthAdjust="spacingAndGlyphs" >Jul '19</text>
<rect x="761" y="898" width="1" height="4.5" fill="#cfcfcf"/>
<text x="742.5" y="917.6" font-size="13.8" fill="#555" textLength="37.9" lengthAdjust="spacingAndGlyphs" >Jan '20</text>
<rect x="851" y="898" width="1" height="4.5" fill="#cfcfcf"/>
<text x="834.4" y="917.6" font-size="13.8" fill="#555" textLength="34.2" lengthAdjust="spacingAndGlyphs" >Jul '20</text>
<rect x="941" y="898" width="1" height="4.5" fill="#cfcfcf"/>
<text x="922.5" y="917.6" font-size="13.8" fill="#555" textLength="37.9" lengthAdjust="spacingAndGlyphs" >Jan '21</text>
<rect x="1031" y="898" width="1" height="4.5" fill="#cfcfcf"/>
<text x="1014.4" y="917.6" font-size="13.8" fill="#555" textLength="34.2" lengthAdjust="spacingAndGlyphs" >Jul '21</text>
<rect x="1121" y="898" width="1" height="4.5" fill="#cfcfcf"/>
<text x="1102.5" y="917.6" font-size="13.8" fill="#555" textLength="37.9" lengthAdjust="spacingAndGlyphs" >Jan '22</text>
<rect x="1211" y="898" width="1" height="4.5" fill="#cfcfcf"/>
<text x="1194.4" y="917.6" font-size="13.8" fill="#555" textLength="34.2" lengthAdjust="spacingAndGlyphs" >Jul '22</text>
<rect x="1301" y="898" width="1" height="4.5" fill="#cfcfcf"/>
<text x="1282.5" y="917.6" font-size="13.8" fill="#555" textLength="37.9" lengthAdjust="spacingAndGlyphs" >Jan '23</text>
<rect x="1391" y="898" width="1" height="4.5" fill="#cfcfcf"/>
<text x="1374.4" y="917.6" font-size="13.8" fill="#555" textLength="34.2" lengthAdjust="spacingAndGlyphs" >Jul '23</text>
<rect x="1481" y="898" width="1" height="4.5" fill="#cfcfcf"/>
<text x="1462.5" y="917.6" font-size="13.8" fill="#555" textLength="37.9" lengthAdjust="spacingAndGlyphs" >Jan '24</text>
<rect x="1571" y="898" width="1" height="4.5" fill="#cfcfcf"/>
<text x="1554.4" y="917.6" font-size="13.8" fill="#555" textLength="34.2" lengthAdjust="spacingAndGlyphs" >Jul '24</text>
<rect x="1661" y="898" width="1" height="4.5" fill="#cfcfcf"/>
<text x="1642.5" y="917.6" font-size="13.8" fill="#555" textLength="37.9" lengthAdjust="spacingAndGlyphs" >Jan '25</text>
<rect x="1751" y="898" width="1" height="4.5" fill="#cfcfcf"/>
<text x="1734.4" y="917.6" font-size="13.8" fill="#555" textLength="34.2" lengthAdjust="spacingAndGlyphs" >Jul '25</text>
<rect x="39.5" y="926.3" width="1859.5" height="1" fill="#d9d9d9"/>
<text x="60.8" y="947.9" font-size="13.5" fill="#222" textLength="17.4" lengthAdjust="spacingAndGlyphs" >1D</text>
<text x="95.1" y="947.9" font-size="13.5" fill="#222" textLength="17.8" lengthAdjust="spacingAndGlyphs" >5D</text>
<text x="130.3" y="947.9" font-size="13.5" fill="#222" textLength="19.3" lengthAdjust="spacingAndGlyphs" >1M</text>
<text x="166.6" y="947.9" font-size="13.5" fill="#222" textLength="20.1" lengthAdjust="spacingAndGlyphs" >2M</text>
<text x="203.5" y="947.9" font-size="13.5" fill="#222" textLength="20" lengthAdjust="spacingAndGlyphs" >3M</text>
<text x="240.6" y="947.9" font-size="13.5" fill="#222" textLength="20" lengthAdjust="spacingAndGlyphs" >6M</text>
<text x="277.5" y="947.9" font-size="13.5" fill="#222" textLength="20.3" lengthAdjust="spacingAndGlyphs" >9M</text>
<text x="315.2" y="947.9" font-size="13.5" fill="#222" textLength="15.8" lengthAdjust="spacingAndGlyphs" >1Y</text>
<text x="347.6" y="947.9" font-size="13.5" fill="#222" textLength="17.3" lengthAdjust="spacingAndGlyphs" >2Y</text>
<text x="380.8" y="947.9" font-size="13.5" fill="#222" textLength="16.5" lengthAdjust="spacingAndGlyphs" >3Y</text>
<text x="413.6" y="947.9" font-size="13.5" fill="#222" textLength="16.6" lengthAdjust="spacingAndGlyphs" >5Y</text>
<text x="446.7" y="947.9" font-size="13.5" fill="#222" textLength="24.4" lengthAdjust="spacingAndGlyphs" >10Y</text>
<text x="487.3" y="947.9" font-size="13.5" fill="#222" textLength="25.1" lengthAdjust="spacingAndGlyphs" >20Y</text>
<text x="528.2" y="947.9" font-size="13.5" fill="#222" textLength="27.6" lengthAdjust="spacingAndGlyphs" >Max</text>
<g fill="none" stroke="#222" stroke-width="1.2"><rect x="575" y="937.2" width="12" height="10.5" rx="1"/><path d="M575 940.8 H587 M578.3 935.3 V938.5 M583.7 935.3 V938.5"/></g>
<path d="M1800 937.5 L1803.6 940.8 L1807.2 937.5 M1800 941.8 L1803.6 945.1 L1807.2 941.8" fill="none" stroke="#222" stroke-width="1.4"/>
<rect x="1824" y="930" width="1" height="27" fill="#d9d9d9"/>
<text x="1836" y="948" font-size="13.5" fill="#222" textLength="12" lengthAdjust="spacingAndGlyphs" >%</text>
<text x="1869" y="948" font-size="13.5" fill="#222" textLength="18" lengthAdjust="spacingAndGlyphs" >log</text>
<path d="M1899 949.5 A7.5 7.5 0 0 1 1891.5 957 L1899 957 Z" fill="#9a9a9a"/>
</svg></body></html>
